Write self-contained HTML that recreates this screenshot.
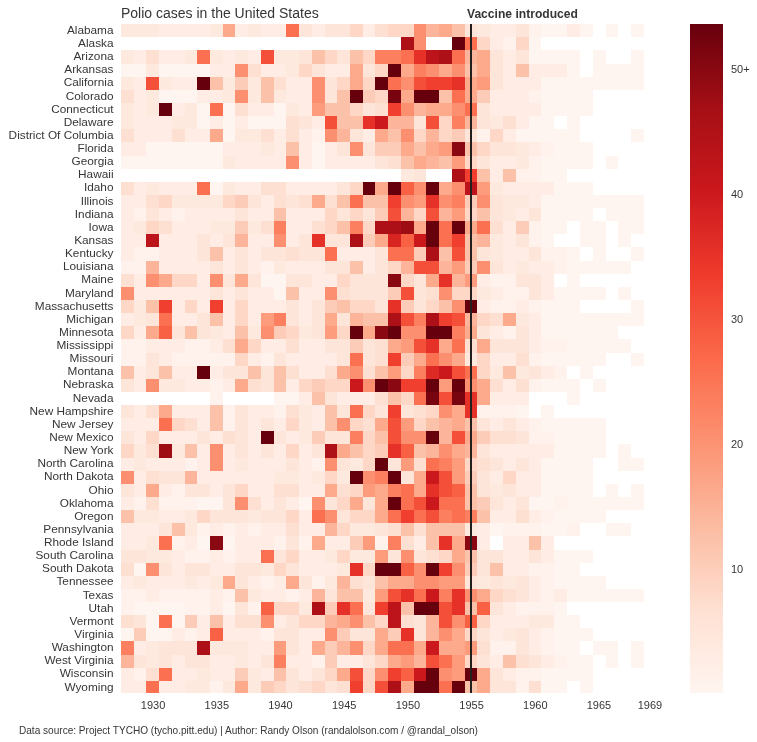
<!DOCTYPE html>
<html><head><meta charset="utf-8"><title>Polio cases in the United States</title>
<style>
html,body{margin:0;padding:0;background:#fff;}
body{width:757px;height:742px;position:relative;overflow:hidden;font-family:"Liberation Sans",sans-serif;color:#363636;}
svg{position:absolute;left:0;top:0;}
.txt,.txt0{position:absolute;left:0;top:0;width:757px;height:742px;will-change:transform;}
.title{position:absolute;left:121px;top:4px;font-size:14px;line-height:18px;white-space:nowrap;}
.vac{position:absolute;left:467px;top:6px;font-size:12.1px;line-height:16px;font-weight:bold;white-space:nowrap;}
.sl{position:absolute;right:643.5px;width:200px;text-align:right;font-size:11.8px;line-height:16px;white-space:nowrap;}
.xt{position:absolute;top:697px;width:40px;text-align:center;font-size:11px;line-height:16px;}
.cbt{position:absolute;left:731px;font-size:11px;line-height:16px;}
.foot{position:absolute;left:19px;top:724.3px;font-size:10.07px;line-height:14px;white-space:nowrap;}
</style></head><body>
<svg width="757" height="742" viewBox="0 0 757 742" shape-rendering="crispEdges">
<defs><linearGradient id="g" x1="0" y1="0" x2="0" y2="1"><stop offset="0.000" stop-color="#67000d"/><stop offset="0.125" stop-color="#a50f15"/><stop offset="0.250" stop-color="#cb181d"/><stop offset="0.375" stop-color="#ef3b2c"/><stop offset="0.500" stop-color="#fb6a4a"/><stop offset="0.625" stop-color="#fc9272"/><stop offset="0.750" stop-color="#fcbba1"/><stop offset="0.875" stop-color="#fee0d2"/><stop offset="1.000" stop-color="#fff5f0"/></linearGradient></defs>
<rect x="121" y="24" width="38" height="13" fill="#fee9df"/>
<rect x="159" y="24" width="51" height="13" fill="#ffede5"/>
<rect x="210" y="24" width="13" height="13" fill="#fee9df"/>
<rect x="223" y="24" width="12" height="13" fill="#fca98c"/>
<rect x="235" y="24" width="13" height="13" fill="#ffede5"/>
<rect x="248" y="24" width="13" height="13" fill="#fee9df"/>
<rect x="261" y="24" width="25" height="13" fill="#ffede5"/>
<rect x="286" y="24" width="13" height="13" fill="#fb7050"/>
<rect x="299" y="24" width="13" height="13" fill="#fee5d9"/>
<rect x="312" y="24" width="13" height="13" fill="#ffede5"/>
<rect x="325" y="24" width="25" height="13" fill="#fee5d9"/>
<rect x="350" y="24" width="13" height="13" fill="#fed7c6"/>
<rect x="363" y="24" width="12" height="13" fill="#ffede5"/>
<rect x="375" y="24" width="13" height="13" fill="#fee0d2"/>
<rect x="388" y="24" width="26" height="13" fill="#fed7c6"/>
<rect x="414" y="24" width="12" height="13" fill="#fc8f6f"/>
<rect x="426" y="24" width="13" height="13" fill="#fcb59a"/>
<rect x="439" y="24" width="13" height="13" fill="#fca98c"/>
<rect x="452" y="24" width="13" height="13" fill="#fcc1a9"/>
<rect x="465" y="24" width="12" height="13" fill="#fee5d9"/>
<rect x="477" y="24" width="13" height="13" fill="#fee9df"/>
<rect x="490" y="24" width="26" height="13" fill="#ffede5"/>
<rect x="516" y="24" width="13" height="13" fill="#fee5d9"/>
<rect x="529" y="24" width="12" height="13" fill="#fff1eb"/>
<rect x="541" y="24" width="26" height="13" fill="#fff5f0"/>
<rect x="567" y="24" width="13" height="13" fill="#ffede5"/>
<rect x="580" y="24" width="13" height="13" fill="#fff5f0"/>
<rect x="606" y="24" width="12" height="13" fill="#fff5f0"/>
<rect x="631" y="24" width="13" height="13" fill="#fff5f0"/>
<rect x="401" y="37" width="13" height="13" fill="#ad1117"/>
<rect x="414" y="37" width="12" height="13" fill="#fc8f6f"/>
<rect x="452" y="37" width="13" height="13" fill="#67000d"/>
<rect x="465" y="37" width="12" height="13" fill="#fb7050"/>
<rect x="477" y="37" width="13" height="13" fill="#fed7c6"/>
<rect x="490" y="37" width="13" height="13" fill="#ffede5"/>
<rect x="503" y="37" width="13" height="13" fill="#fff1eb"/>
<rect x="516" y="37" width="13" height="13" fill="#fed7c6"/>
<rect x="529" y="37" width="12" height="13" fill="#fff5f0"/>
<rect x="121" y="50" width="13" height="14" fill="#fee9df"/>
<rect x="134" y="50" width="12" height="14" fill="#ffede5"/>
<rect x="146" y="50" width="13" height="14" fill="#fee0d2"/>
<rect x="159" y="50" width="26" height="14" fill="#ffede5"/>
<rect x="185" y="50" width="12" height="14" fill="#fee9df"/>
<rect x="197" y="50" width="13" height="14" fill="#fb7050"/>
<rect x="210" y="50" width="13" height="14" fill="#fee9df"/>
<rect x="223" y="50" width="12" height="14" fill="#ffede5"/>
<rect x="235" y="50" width="13" height="14" fill="#fee9df"/>
<rect x="248" y="50" width="13" height="14" fill="#ffede5"/>
<rect x="261" y="50" width="13" height="14" fill="#f45039"/>
<rect x="274" y="50" width="25" height="14" fill="#fee9df"/>
<rect x="299" y="50" width="13" height="14" fill="#fee5d9"/>
<rect x="312" y="50" width="13" height="14" fill="#fcc1a9"/>
<rect x="325" y="50" width="12" height="14" fill="#fed7c6"/>
<rect x="337" y="50" width="13" height="14" fill="#fee5d9"/>
<rect x="350" y="50" width="13" height="14" fill="#fcc1a9"/>
<rect x="363" y="50" width="12" height="14" fill="#fed7c6"/>
<rect x="375" y="50" width="26" height="14" fill="#fc8060"/>
<rect x="401" y="50" width="13" height="14" fill="#fb7050"/>
<rect x="414" y="50" width="12" height="14" fill="#e53128"/>
<rect x="426" y="50" width="13" height="14" fill="#bc141a"/>
<rect x="439" y="50" width="13" height="14" fill="#ad1117"/>
<rect x="452" y="50" width="13" height="14" fill="#fb7050"/>
<rect x="465" y="50" width="12" height="14" fill="#fcb59a"/>
<rect x="477" y="50" width="13" height="14" fill="#fca98c"/>
<rect x="490" y="50" width="13" height="14" fill="#fee5d9"/>
<rect x="503" y="50" width="13" height="14" fill="#ffede5"/>
<rect x="516" y="50" width="13" height="14" fill="#fee5d9"/>
<rect x="529" y="50" width="51" height="14" fill="#fff5f0"/>
<rect x="593" y="50" width="13" height="14" fill="#fff5f0"/>
<rect x="631" y="50" width="13" height="14" fill="#fff5f0"/>
<rect x="121" y="64" width="25" height="13" fill="#fff5f0"/>
<rect x="146" y="64" width="13" height="13" fill="#fee9df"/>
<rect x="159" y="64" width="51" height="13" fill="#fff5f0"/>
<rect x="210" y="64" width="25" height="13" fill="#ffede5"/>
<rect x="235" y="64" width="13" height="13" fill="#fc8f6f"/>
<rect x="248" y="64" width="13" height="13" fill="#fee0d2"/>
<rect x="261" y="64" width="25" height="13" fill="#ffede5"/>
<rect x="286" y="64" width="13" height="13" fill="#fee9df"/>
<rect x="299" y="64" width="13" height="13" fill="#fed7c6"/>
<rect x="312" y="64" width="13" height="13" fill="#fee5d9"/>
<rect x="325" y="64" width="25" height="13" fill="#ffede5"/>
<rect x="350" y="64" width="13" height="13" fill="#fca98c"/>
<rect x="363" y="64" width="12" height="13" fill="#fee5d9"/>
<rect x="375" y="64" width="13" height="13" fill="#fed7c6"/>
<rect x="388" y="64" width="13" height="13" fill="#67000d"/>
<rect x="401" y="64" width="13" height="13" fill="#fca98c"/>
<rect x="414" y="64" width="12" height="13" fill="#fc8060"/>
<rect x="426" y="64" width="13" height="13" fill="#fc8f6f"/>
<rect x="439" y="64" width="13" height="13" fill="#fca98c"/>
<rect x="452" y="64" width="13" height="13" fill="#fc8f6f"/>
<rect x="465" y="64" width="12" height="13" fill="#fcc1a9"/>
<rect x="477" y="64" width="13" height="13" fill="#fca98c"/>
<rect x="490" y="64" width="13" height="13" fill="#fee5d9"/>
<rect x="503" y="64" width="13" height="13" fill="#ffede5"/>
<rect x="516" y="64" width="13" height="13" fill="#fcc1a9"/>
<rect x="529" y="64" width="38" height="13" fill="#ffede5"/>
<rect x="567" y="64" width="13" height="13" fill="#fff5f0"/>
<rect x="593" y="64" width="51" height="13" fill="#fff5f0"/>
<rect x="121" y="77" width="13" height="13" fill="#fee9df"/>
<rect x="134" y="77" width="12" height="13" fill="#ffede5"/>
<rect x="146" y="77" width="13" height="13" fill="#f45039"/>
<rect x="159" y="77" width="13" height="13" fill="#fee9df"/>
<rect x="172" y="77" width="25" height="13" fill="#ffede5"/>
<rect x="197" y="77" width="13" height="13" fill="#67000d"/>
<rect x="210" y="77" width="13" height="13" fill="#fcc1a9"/>
<rect x="223" y="77" width="12" height="13" fill="#fee9df"/>
<rect x="235" y="77" width="13" height="13" fill="#fdccb8"/>
<rect x="248" y="77" width="13" height="13" fill="#fee9df"/>
<rect x="261" y="77" width="13" height="13" fill="#fcc1a9"/>
<rect x="274" y="77" width="12" height="13" fill="#fee0d2"/>
<rect x="286" y="77" width="26" height="13" fill="#ffede5"/>
<rect x="312" y="77" width="13" height="13" fill="#fc8f6f"/>
<rect x="325" y="77" width="12" height="13" fill="#fee5d9"/>
<rect x="337" y="77" width="13" height="13" fill="#fed7c6"/>
<rect x="350" y="77" width="13" height="13" fill="#fca98c"/>
<rect x="363" y="77" width="12" height="13" fill="#fed7c6"/>
<rect x="375" y="77" width="13" height="13" fill="#67000d"/>
<rect x="388" y="77" width="13" height="13" fill="#fb7050"/>
<rect x="401" y="77" width="13" height="13" fill="#fc8f6f"/>
<rect x="414" y="77" width="12" height="13" fill="#f45039"/>
<rect x="426" y="77" width="26" height="13" fill="#f03f2e"/>
<rect x="452" y="77" width="13" height="13" fill="#e53128"/>
<rect x="465" y="77" width="12" height="13" fill="#fca98c"/>
<rect x="477" y="77" width="13" height="13" fill="#fc9c7d"/>
<rect x="490" y="77" width="13" height="13" fill="#fee5d9"/>
<rect x="503" y="77" width="38" height="13" fill="#ffede5"/>
<rect x="541" y="77" width="103" height="13" fill="#fff5f0"/>
<rect x="121" y="90" width="13" height="13" fill="#fee0d2"/>
<rect x="134" y="90" width="12" height="13" fill="#ffede5"/>
<rect x="146" y="90" width="13" height="13" fill="#fee9df"/>
<rect x="159" y="90" width="38" height="13" fill="#fff5f0"/>
<rect x="197" y="90" width="26" height="13" fill="#ffede5"/>
<rect x="223" y="90" width="12" height="13" fill="#fee9df"/>
<rect x="235" y="90" width="13" height="13" fill="#fc8f6f"/>
<rect x="248" y="90" width="13" height="13" fill="#fee9df"/>
<rect x="261" y="90" width="13" height="13" fill="#fcc1a9"/>
<rect x="274" y="90" width="12" height="13" fill="#fee9df"/>
<rect x="286" y="90" width="26" height="13" fill="#ffede5"/>
<rect x="312" y="90" width="13" height="13" fill="#fc8f6f"/>
<rect x="325" y="90" width="12" height="13" fill="#fee5d9"/>
<rect x="337" y="90" width="13" height="13" fill="#fcc1a9"/>
<rect x="350" y="90" width="13" height="13" fill="#67000d"/>
<rect x="363" y="90" width="12" height="13" fill="#fdccb8"/>
<rect x="375" y="90" width="13" height="13" fill="#fed7c6"/>
<rect x="388" y="90" width="13" height="13" fill="#78040f"/>
<rect x="401" y="90" width="13" height="13" fill="#fca98c"/>
<rect x="414" y="90" width="25" height="13" fill="#67000d"/>
<rect x="439" y="90" width="13" height="13" fill="#fcc1a9"/>
<rect x="452" y="90" width="13" height="13" fill="#fb7050"/>
<rect x="465" y="90" width="12" height="13" fill="#fca98c"/>
<rect x="477" y="90" width="13" height="13" fill="#fdccb8"/>
<rect x="490" y="90" width="39" height="13" fill="#ffede5"/>
<rect x="529" y="90" width="12" height="13" fill="#fff1eb"/>
<rect x="541" y="90" width="52" height="13" fill="#fff5f0"/>
<rect x="121" y="103" width="13" height="13" fill="#fee9df"/>
<rect x="134" y="103" width="12" height="13" fill="#ffede5"/>
<rect x="146" y="103" width="13" height="13" fill="#fee9df"/>
<rect x="159" y="103" width="13" height="13" fill="#67000d"/>
<rect x="172" y="103" width="13" height="13" fill="#ffede5"/>
<rect x="185" y="103" width="12" height="13" fill="#fee9df"/>
<rect x="197" y="103" width="13" height="13" fill="#fff5f0"/>
<rect x="210" y="103" width="13" height="13" fill="#fb7050"/>
<rect x="223" y="103" width="12" height="13" fill="#fff5f0"/>
<rect x="235" y="103" width="13" height="13" fill="#fee0d2"/>
<rect x="248" y="103" width="26" height="13" fill="#ffede5"/>
<rect x="274" y="103" width="12" height="13" fill="#fff5f0"/>
<rect x="286" y="103" width="13" height="13" fill="#fee9df"/>
<rect x="299" y="103" width="13" height="13" fill="#ffede5"/>
<rect x="312" y="103" width="13" height="13" fill="#fc9c7d"/>
<rect x="325" y="103" width="25" height="13" fill="#fcc1a9"/>
<rect x="350" y="103" width="13" height="13" fill="#fed7c6"/>
<rect x="363" y="103" width="12" height="13" fill="#fee5d9"/>
<rect x="375" y="103" width="13" height="13" fill="#fee0d2"/>
<rect x="388" y="103" width="13" height="13" fill="#f03f2e"/>
<rect x="401" y="103" width="13" height="13" fill="#fc8f6f"/>
<rect x="414" y="103" width="12" height="13" fill="#fcb59a"/>
<rect x="426" y="103" width="26" height="13" fill="#fca98c"/>
<rect x="452" y="103" width="13" height="13" fill="#fc8f6f"/>
<rect x="465" y="103" width="12" height="13" fill="#fb7050"/>
<rect x="477" y="103" width="13" height="13" fill="#fee5d9"/>
<rect x="490" y="103" width="51" height="13" fill="#ffede5"/>
<rect x="541" y="103" width="52" height="13" fill="#fff5f0"/>
<rect x="121" y="116" width="13" height="13" fill="#fee9df"/>
<rect x="134" y="116" width="38" height="13" fill="#ffede5"/>
<rect x="172" y="116" width="25" height="13" fill="#fee9df"/>
<rect x="197" y="116" width="13" height="13" fill="#fff5f0"/>
<rect x="210" y="116" width="13" height="13" fill="#ffede5"/>
<rect x="223" y="116" width="12" height="13" fill="#fff5f0"/>
<rect x="235" y="116" width="13" height="13" fill="#ffede5"/>
<rect x="248" y="116" width="38" height="13" fill="#fff5f0"/>
<rect x="286" y="116" width="13" height="13" fill="#fee0d2"/>
<rect x="299" y="116" width="13" height="13" fill="#fee5d9"/>
<rect x="312" y="116" width="13" height="13" fill="#ffede5"/>
<rect x="325" y="116" width="12" height="13" fill="#f45039"/>
<rect x="337" y="116" width="26" height="13" fill="#fcc1a9"/>
<rect x="363" y="116" width="12" height="13" fill="#e53128"/>
<rect x="375" y="116" width="13" height="13" fill="#cb181d"/>
<rect x="388" y="116" width="26" height="13" fill="#fcb59a"/>
<rect x="414" y="116" width="12" height="13" fill="#fee5d9"/>
<rect x="426" y="116" width="13" height="13" fill="#f45039"/>
<rect x="439" y="116" width="13" height="13" fill="#fed7c6"/>
<rect x="452" y="116" width="13" height="13" fill="#fc8060"/>
<rect x="465" y="116" width="12" height="13" fill="#fcb59a"/>
<rect x="477" y="116" width="13" height="13" fill="#fee5d9"/>
<rect x="490" y="116" width="13" height="13" fill="#fee9df"/>
<rect x="503" y="116" width="13" height="13" fill="#fee0d2"/>
<rect x="516" y="116" width="13" height="13" fill="#ffede5"/>
<rect x="529" y="116" width="25" height="13" fill="#fff5f0"/>
<rect x="567" y="116" width="13" height="13" fill="#fff5f0"/>
<rect x="121" y="129" width="13" height="13" fill="#fee0d2"/>
<rect x="134" y="129" width="38" height="13" fill="#ffede5"/>
<rect x="172" y="129" width="13" height="13" fill="#fee0d2"/>
<rect x="185" y="129" width="25" height="13" fill="#ffede5"/>
<rect x="210" y="129" width="13" height="13" fill="#fca98c"/>
<rect x="223" y="129" width="12" height="13" fill="#fff5f0"/>
<rect x="235" y="129" width="26" height="13" fill="#fee9df"/>
<rect x="261" y="129" width="13" height="13" fill="#fee0d2"/>
<rect x="274" y="129" width="12" height="13" fill="#ffede5"/>
<rect x="286" y="129" width="13" height="13" fill="#fee0d2"/>
<rect x="299" y="129" width="13" height="13" fill="#ffede5"/>
<rect x="312" y="129" width="13" height="13" fill="#fff1eb"/>
<rect x="325" y="129" width="12" height="13" fill="#fc8f6f"/>
<rect x="337" y="129" width="13" height="13" fill="#fcb59a"/>
<rect x="350" y="129" width="13" height="13" fill="#fee5d9"/>
<rect x="363" y="129" width="12" height="13" fill="#ffede5"/>
<rect x="375" y="129" width="13" height="13" fill="#fca98c"/>
<rect x="388" y="129" width="13" height="13" fill="#fcc1a9"/>
<rect x="401" y="129" width="13" height="13" fill="#fc8f6f"/>
<rect x="414" y="129" width="12" height="13" fill="#fed7c6"/>
<rect x="426" y="129" width="13" height="13" fill="#fcb59a"/>
<rect x="439" y="129" width="13" height="13" fill="#fed7c6"/>
<rect x="452" y="129" width="13" height="13" fill="#fdccb8"/>
<rect x="465" y="129" width="12" height="13" fill="#fee5d9"/>
<rect x="477" y="129" width="13" height="13" fill="#fff1eb"/>
<rect x="490" y="129" width="13" height="13" fill="#fed7c6"/>
<rect x="503" y="129" width="13" height="13" fill="#ffede5"/>
<rect x="516" y="129" width="64" height="13" fill="#fff5f0"/>
<rect x="631" y="129" width="13" height="13" fill="#fff5f0"/>
<rect x="121" y="142" width="25" height="14" fill="#ffede5"/>
<rect x="146" y="142" width="77" height="14" fill="#fff5f0"/>
<rect x="223" y="142" width="38" height="14" fill="#ffede5"/>
<rect x="261" y="142" width="13" height="14" fill="#fee9df"/>
<rect x="274" y="142" width="12" height="14" fill="#ffede5"/>
<rect x="286" y="142" width="13" height="14" fill="#fcc1a9"/>
<rect x="299" y="142" width="13" height="14" fill="#ffede5"/>
<rect x="312" y="142" width="13" height="14" fill="#fff5f0"/>
<rect x="325" y="142" width="12" height="14" fill="#ffede5"/>
<rect x="337" y="142" width="13" height="14" fill="#fee5d9"/>
<rect x="350" y="142" width="13" height="14" fill="#fc8f6f"/>
<rect x="363" y="142" width="12" height="14" fill="#fee5d9"/>
<rect x="375" y="142" width="26" height="14" fill="#fdccb8"/>
<rect x="401" y="142" width="13" height="14" fill="#fca98c"/>
<rect x="414" y="142" width="12" height="14" fill="#fcc1a9"/>
<rect x="426" y="142" width="13" height="14" fill="#fca98c"/>
<rect x="439" y="142" width="13" height="14" fill="#fc9c7d"/>
<rect x="452" y="142" width="13" height="14" fill="#8a0811"/>
<rect x="465" y="142" width="12" height="14" fill="#fcc1a9"/>
<rect x="477" y="142" width="13" height="14" fill="#fed7c6"/>
<rect x="490" y="142" width="26" height="14" fill="#fee5d9"/>
<rect x="516" y="142" width="13" height="14" fill="#fee9df"/>
<rect x="529" y="142" width="12" height="14" fill="#ffede5"/>
<rect x="541" y="142" width="13" height="14" fill="#fff1eb"/>
<rect x="554" y="142" width="39" height="14" fill="#fff5f0"/>
<rect x="121" y="156" width="102" height="13" fill="#fff5f0"/>
<rect x="223" y="156" width="12" height="13" fill="#fee9df"/>
<rect x="235" y="156" width="51" height="13" fill="#ffede5"/>
<rect x="286" y="156" width="13" height="13" fill="#fc8f6f"/>
<rect x="299" y="156" width="13" height="13" fill="#ffede5"/>
<rect x="312" y="156" width="13" height="13" fill="#fff5f0"/>
<rect x="325" y="156" width="50" height="13" fill="#ffede5"/>
<rect x="375" y="156" width="13" height="13" fill="#fee5d9"/>
<rect x="388" y="156" width="13" height="13" fill="#fee0d2"/>
<rect x="401" y="156" width="13" height="13" fill="#fcc1a9"/>
<rect x="414" y="156" width="12" height="13" fill="#fca98c"/>
<rect x="426" y="156" width="13" height="13" fill="#fcb59a"/>
<rect x="439" y="156" width="13" height="13" fill="#fcc1a9"/>
<rect x="452" y="156" width="13" height="13" fill="#fc9c7d"/>
<rect x="465" y="156" width="12" height="13" fill="#fed7c6"/>
<rect x="477" y="156" width="13" height="13" fill="#fee5d9"/>
<rect x="490" y="156" width="26" height="13" fill="#ffede5"/>
<rect x="516" y="156" width="13" height="13" fill="#fee9df"/>
<rect x="529" y="156" width="12" height="13" fill="#fff1eb"/>
<rect x="541" y="156" width="52" height="13" fill="#fff5f0"/>
<rect x="606" y="156" width="12" height="13" fill="#fff5f0"/>
<rect x="401" y="169" width="13" height="13" fill="#fee9df"/>
<rect x="414" y="169" width="12" height="13" fill="#fee5d9"/>
<rect x="452" y="169" width="13" height="13" fill="#ad1117"/>
<rect x="465" y="169" width="12" height="13" fill="#f03f2e"/>
<rect x="477" y="169" width="13" height="13" fill="#fcc1a9"/>
<rect x="490" y="169" width="13" height="13" fill="#ffede5"/>
<rect x="503" y="169" width="13" height="13" fill="#fcc1a9"/>
<rect x="516" y="169" width="25" height="13" fill="#fff1eb"/>
<rect x="541" y="169" width="26" height="13" fill="#fff5f0"/>
<rect x="121" y="182" width="13" height="13" fill="#fee0d2"/>
<rect x="134" y="182" width="12" height="13" fill="#ffede5"/>
<rect x="146" y="182" width="13" height="13" fill="#fee9df"/>
<rect x="159" y="182" width="38" height="13" fill="#ffede5"/>
<rect x="197" y="182" width="13" height="13" fill="#fb7050"/>
<rect x="210" y="182" width="13" height="13" fill="#fff5f0"/>
<rect x="223" y="182" width="12" height="13" fill="#fee9df"/>
<rect x="235" y="182" width="26" height="13" fill="#ffede5"/>
<rect x="261" y="182" width="25" height="13" fill="#fee0d2"/>
<rect x="286" y="182" width="51" height="13" fill="#ffede5"/>
<rect x="337" y="182" width="13" height="13" fill="#fee5d9"/>
<rect x="350" y="182" width="13" height="13" fill="#fed7c6"/>
<rect x="363" y="182" width="12" height="13" fill="#67000d"/>
<rect x="375" y="182" width="13" height="13" fill="#fca98c"/>
<rect x="388" y="182" width="13" height="13" fill="#67000d"/>
<rect x="401" y="182" width="13" height="13" fill="#f96144"/>
<rect x="414" y="182" width="12" height="13" fill="#fc8f6f"/>
<rect x="426" y="182" width="13" height="13" fill="#67000d"/>
<rect x="439" y="182" width="13" height="13" fill="#fca98c"/>
<rect x="452" y="182" width="13" height="13" fill="#fc8f6f"/>
<rect x="465" y="182" width="12" height="13" fill="#bc141a"/>
<rect x="477" y="182" width="13" height="13" fill="#fc9c7d"/>
<rect x="490" y="182" width="13" height="13" fill="#fee9df"/>
<rect x="503" y="182" width="51" height="13" fill="#ffede5"/>
<rect x="554" y="182" width="39" height="13" fill="#fff5f0"/>
<rect x="121" y="195" width="25" height="13" fill="#ffede5"/>
<rect x="146" y="195" width="13" height="13" fill="#fee0d2"/>
<rect x="159" y="195" width="13" height="13" fill="#fed7c6"/>
<rect x="172" y="195" width="51" height="13" fill="#fee9df"/>
<rect x="223" y="195" width="12" height="13" fill="#fed7c6"/>
<rect x="235" y="195" width="13" height="13" fill="#fdccb8"/>
<rect x="248" y="195" width="13" height="13" fill="#fee5d9"/>
<rect x="261" y="195" width="13" height="13" fill="#ffede5"/>
<rect x="274" y="195" width="12" height="13" fill="#fee0d2"/>
<rect x="286" y="195" width="13" height="13" fill="#fee5d9"/>
<rect x="299" y="195" width="13" height="13" fill="#fee0d2"/>
<rect x="312" y="195" width="13" height="13" fill="#fca98c"/>
<rect x="325" y="195" width="12" height="13" fill="#fee0d2"/>
<rect x="337" y="195" width="13" height="13" fill="#fcc1a9"/>
<rect x="350" y="195" width="13" height="13" fill="#fb7050"/>
<rect x="363" y="195" width="25" height="13" fill="#fcc1a9"/>
<rect x="388" y="195" width="13" height="13" fill="#f03f2e"/>
<rect x="401" y="195" width="13" height="13" fill="#fc8f6f"/>
<rect x="414" y="195" width="12" height="13" fill="#fc9c7d"/>
<rect x="426" y="195" width="13" height="13" fill="#e53128"/>
<rect x="439" y="195" width="13" height="13" fill="#fc8f6f"/>
<rect x="452" y="195" width="13" height="13" fill="#fc8060"/>
<rect x="465" y="195" width="12" height="13" fill="#fdccb8"/>
<rect x="477" y="195" width="13" height="13" fill="#fc8f6f"/>
<rect x="490" y="195" width="13" height="13" fill="#fee5d9"/>
<rect x="503" y="195" width="26" height="13" fill="#fee9df"/>
<rect x="529" y="195" width="12" height="13" fill="#ffede5"/>
<rect x="541" y="195" width="103" height="13" fill="#fff5f0"/>
<rect x="121" y="208" width="13" height="13" fill="#ffede5"/>
<rect x="134" y="208" width="12" height="13" fill="#fff1eb"/>
<rect x="146" y="208" width="13" height="13" fill="#fee5d9"/>
<rect x="159" y="208" width="13" height="13" fill="#ffede5"/>
<rect x="172" y="208" width="13" height="13" fill="#fff1eb"/>
<rect x="185" y="208" width="50" height="13" fill="#ffede5"/>
<rect x="235" y="208" width="13" height="13" fill="#fee5d9"/>
<rect x="248" y="208" width="26" height="13" fill="#ffede5"/>
<rect x="274" y="208" width="12" height="13" fill="#fcc1a9"/>
<rect x="286" y="208" width="39" height="13" fill="#ffede5"/>
<rect x="325" y="208" width="12" height="13" fill="#fed7c6"/>
<rect x="337" y="208" width="13" height="13" fill="#fee5d9"/>
<rect x="350" y="208" width="13" height="13" fill="#fed7c6"/>
<rect x="363" y="208" width="12" height="13" fill="#fee5d9"/>
<rect x="375" y="208" width="13" height="13" fill="#fdccb8"/>
<rect x="388" y="208" width="13" height="13" fill="#f45039"/>
<rect x="401" y="208" width="13" height="13" fill="#fcb59a"/>
<rect x="414" y="208" width="12" height="13" fill="#fed7c6"/>
<rect x="426" y="208" width="13" height="13" fill="#f45039"/>
<rect x="439" y="208" width="13" height="13" fill="#fcb59a"/>
<rect x="452" y="208" width="13" height="13" fill="#fc9c7d"/>
<rect x="465" y="208" width="12" height="13" fill="#fed7c6"/>
<rect x="477" y="208" width="13" height="13" fill="#fcc1a9"/>
<rect x="490" y="208" width="13" height="13" fill="#fee5d9"/>
<rect x="503" y="208" width="13" height="13" fill="#fee9df"/>
<rect x="516" y="208" width="13" height="13" fill="#ffede5"/>
<rect x="529" y="208" width="12" height="13" fill="#fee5d9"/>
<rect x="541" y="208" width="52" height="13" fill="#fff5f0"/>
<rect x="606" y="208" width="38" height="13" fill="#fff5f0"/>
<rect x="121" y="221" width="13" height="13" fill="#ffede5"/>
<rect x="134" y="221" width="12" height="13" fill="#fee9df"/>
<rect x="146" y="221" width="13" height="13" fill="#fed7c6"/>
<rect x="159" y="221" width="13" height="13" fill="#fee0d2"/>
<rect x="172" y="221" width="38" height="13" fill="#ffede5"/>
<rect x="210" y="221" width="25" height="13" fill="#fee9df"/>
<rect x="235" y="221" width="13" height="13" fill="#fdccb8"/>
<rect x="248" y="221" width="13" height="13" fill="#fee9df"/>
<rect x="261" y="221" width="13" height="13" fill="#fee0d2"/>
<rect x="274" y="221" width="12" height="13" fill="#fc8060"/>
<rect x="286" y="221" width="26" height="13" fill="#ffede5"/>
<rect x="312" y="221" width="13" height="13" fill="#fee0d2"/>
<rect x="325" y="221" width="12" height="13" fill="#fed7c6"/>
<rect x="337" y="221" width="13" height="13" fill="#fcc1a9"/>
<rect x="350" y="221" width="13" height="13" fill="#fc8060"/>
<rect x="363" y="221" width="12" height="13" fill="#fed7c6"/>
<rect x="375" y="221" width="26" height="13" fill="#ad1117"/>
<rect x="401" y="221" width="13" height="13" fill="#9e0d14"/>
<rect x="414" y="221" width="12" height="13" fill="#fca98c"/>
<rect x="426" y="221" width="13" height="13" fill="#67000d"/>
<rect x="439" y="221" width="13" height="13" fill="#fb7050"/>
<rect x="452" y="221" width="13" height="13" fill="#67000d"/>
<rect x="465" y="221" width="12" height="13" fill="#fca98c"/>
<rect x="477" y="221" width="13" height="13" fill="#fb7050"/>
<rect x="490" y="221" width="13" height="13" fill="#fee0d2"/>
<rect x="503" y="221" width="13" height="13" fill="#ffede5"/>
<rect x="516" y="221" width="13" height="13" fill="#fdccb8"/>
<rect x="529" y="221" width="12" height="13" fill="#fff1eb"/>
<rect x="541" y="221" width="26" height="13" fill="#fff5f0"/>
<rect x="580" y="221" width="26" height="13" fill="#fff5f0"/>
<rect x="618" y="221" width="26" height="13" fill="#fff5f0"/>
<rect x="121" y="234" width="25" height="13" fill="#ffede5"/>
<rect x="146" y="234" width="13" height="13" fill="#bc141a"/>
<rect x="159" y="234" width="38" height="13" fill="#ffede5"/>
<rect x="197" y="234" width="13" height="13" fill="#fee5d9"/>
<rect x="210" y="234" width="13" height="13" fill="#ffede5"/>
<rect x="223" y="234" width="12" height="13" fill="#fee5d9"/>
<rect x="235" y="234" width="13" height="13" fill="#fcb59a"/>
<rect x="248" y="234" width="26" height="13" fill="#ffede5"/>
<rect x="274" y="234" width="12" height="13" fill="#fc8f6f"/>
<rect x="286" y="234" width="13" height="13" fill="#ffede5"/>
<rect x="299" y="234" width="13" height="13" fill="#fee5d9"/>
<rect x="312" y="234" width="13" height="13" fill="#e53128"/>
<rect x="325" y="234" width="25" height="13" fill="#fee5d9"/>
<rect x="350" y="234" width="13" height="13" fill="#ad1117"/>
<rect x="363" y="234" width="12" height="13" fill="#fdccb8"/>
<rect x="375" y="234" width="13" height="13" fill="#fca98c"/>
<rect x="388" y="234" width="13" height="13" fill="#d82522"/>
<rect x="401" y="234" width="13" height="13" fill="#f96144"/>
<rect x="414" y="234" width="12" height="13" fill="#cb181d"/>
<rect x="426" y="234" width="13" height="13" fill="#67000d"/>
<rect x="439" y="234" width="13" height="13" fill="#fb7050"/>
<rect x="452" y="234" width="13" height="13" fill="#f03f2e"/>
<rect x="465" y="234" width="12" height="13" fill="#fcc1a9"/>
<rect x="477" y="234" width="13" height="13" fill="#fcb59a"/>
<rect x="490" y="234" width="13" height="13" fill="#fee9df"/>
<rect x="503" y="234" width="13" height="13" fill="#ffede5"/>
<rect x="516" y="234" width="13" height="13" fill="#fee5d9"/>
<rect x="529" y="234" width="12" height="13" fill="#fff1eb"/>
<rect x="541" y="234" width="13" height="13" fill="#fff5f0"/>
<rect x="580" y="234" width="26" height="13" fill="#fff5f0"/>
<rect x="618" y="234" width="13" height="13" fill="#fff5f0"/>
<rect x="121" y="247" width="13" height="14" fill="#ffede5"/>
<rect x="134" y="247" width="25" height="14" fill="#fff1eb"/>
<rect x="159" y="247" width="38" height="14" fill="#ffede5"/>
<rect x="197" y="247" width="13" height="14" fill="#fee5d9"/>
<rect x="210" y="247" width="13" height="14" fill="#fcc1a9"/>
<rect x="223" y="247" width="12" height="14" fill="#ffede5"/>
<rect x="235" y="247" width="13" height="14" fill="#fee5d9"/>
<rect x="248" y="247" width="13" height="14" fill="#ffede5"/>
<rect x="261" y="247" width="25" height="14" fill="#fee5d9"/>
<rect x="286" y="247" width="13" height="14" fill="#fee0d2"/>
<rect x="299" y="247" width="26" height="14" fill="#fee5d9"/>
<rect x="325" y="247" width="12" height="14" fill="#fb7050"/>
<rect x="337" y="247" width="38" height="14" fill="#ffede5"/>
<rect x="375" y="247" width="13" height="14" fill="#fee5d9"/>
<rect x="388" y="247" width="26" height="14" fill="#fb7050"/>
<rect x="414" y="247" width="12" height="14" fill="#fdccb8"/>
<rect x="426" y="247" width="13" height="14" fill="#ad1117"/>
<rect x="439" y="247" width="13" height="14" fill="#fcc1a9"/>
<rect x="452" y="247" width="13" height="14" fill="#f45039"/>
<rect x="465" y="247" width="12" height="14" fill="#fcc1a9"/>
<rect x="477" y="247" width="13" height="14" fill="#fee5d9"/>
<rect x="490" y="247" width="13" height="14" fill="#fee9df"/>
<rect x="503" y="247" width="26" height="14" fill="#ffede5"/>
<rect x="529" y="247" width="12" height="14" fill="#fee5d9"/>
<rect x="541" y="247" width="26" height="14" fill="#fff1eb"/>
<rect x="567" y="247" width="13" height="14" fill="#fff5f0"/>
<rect x="593" y="247" width="13" height="14" fill="#fff5f0"/>
<rect x="631" y="247" width="13" height="14" fill="#fff5f0"/>
<rect x="121" y="261" width="25" height="13" fill="#fff1eb"/>
<rect x="146" y="261" width="13" height="13" fill="#fcb59a"/>
<rect x="159" y="261" width="51" height="13" fill="#ffede5"/>
<rect x="210" y="261" width="13" height="13" fill="#fee5d9"/>
<rect x="223" y="261" width="12" height="13" fill="#ffede5"/>
<rect x="235" y="261" width="13" height="13" fill="#fee5d9"/>
<rect x="248" y="261" width="13" height="13" fill="#ffede5"/>
<rect x="261" y="261" width="13" height="13" fill="#fff1eb"/>
<rect x="274" y="261" width="12" height="13" fill="#fee9df"/>
<rect x="286" y="261" width="39" height="13" fill="#ffede5"/>
<rect x="325" y="261" width="25" height="13" fill="#fee5d9"/>
<rect x="350" y="261" width="13" height="13" fill="#fcc1a9"/>
<rect x="363" y="261" width="12" height="13" fill="#ffede5"/>
<rect x="375" y="261" width="13" height="13" fill="#fee5d9"/>
<rect x="388" y="261" width="13" height="13" fill="#fed7c6"/>
<rect x="401" y="261" width="13" height="13" fill="#fcb59a"/>
<rect x="414" y="261" width="25" height="13" fill="#f45039"/>
<rect x="439" y="261" width="13" height="13" fill="#fcb59a"/>
<rect x="452" y="261" width="13" height="13" fill="#fc9c7d"/>
<rect x="465" y="261" width="12" height="13" fill="#fdccb8"/>
<rect x="477" y="261" width="13" height="13" fill="#fc8f6f"/>
<rect x="490" y="261" width="13" height="13" fill="#fee5d9"/>
<rect x="503" y="261" width="13" height="13" fill="#ffede5"/>
<rect x="516" y="261" width="13" height="13" fill="#fee9df"/>
<rect x="529" y="261" width="25" height="13" fill="#ffede5"/>
<rect x="554" y="261" width="13" height="13" fill="#fff1eb"/>
<rect x="567" y="261" width="64" height="13" fill="#fff5f0"/>
<rect x="121" y="274" width="13" height="13" fill="#fee0d2"/>
<rect x="134" y="274" width="12" height="13" fill="#ffede5"/>
<rect x="146" y="274" width="13" height="13" fill="#fc8f6f"/>
<rect x="159" y="274" width="13" height="13" fill="#fca98c"/>
<rect x="172" y="274" width="25" height="13" fill="#fed7c6"/>
<rect x="197" y="274" width="13" height="13" fill="#ffede5"/>
<rect x="210" y="274" width="13" height="13" fill="#fc8f6f"/>
<rect x="223" y="274" width="12" height="13" fill="#fee5d9"/>
<rect x="235" y="274" width="13" height="13" fill="#fca98c"/>
<rect x="248" y="274" width="13" height="13" fill="#fee5d9"/>
<rect x="261" y="274" width="25" height="13" fill="#fff5f0"/>
<rect x="286" y="274" width="26" height="13" fill="#fee5d9"/>
<rect x="312" y="274" width="25" height="13" fill="#ffede5"/>
<rect x="337" y="274" width="13" height="13" fill="#fed7c6"/>
<rect x="350" y="274" width="38" height="13" fill="#fee5d9"/>
<rect x="388" y="274" width="13" height="13" fill="#8a0811"/>
<rect x="401" y="274" width="13" height="13" fill="#fed7c6"/>
<rect x="414" y="274" width="12" height="13" fill="#fee5d9"/>
<rect x="426" y="274" width="13" height="13" fill="#fca98c"/>
<rect x="439" y="274" width="13" height="13" fill="#e53128"/>
<rect x="452" y="274" width="13" height="13" fill="#fcb59a"/>
<rect x="465" y="274" width="12" height="13" fill="#fc9c7d"/>
<rect x="477" y="274" width="13" height="13" fill="#ffede5"/>
<rect x="490" y="274" width="26" height="13" fill="#fff1eb"/>
<rect x="516" y="274" width="25" height="13" fill="#fee5d9"/>
<rect x="541" y="274" width="13" height="13" fill="#ffede5"/>
<rect x="567" y="274" width="13" height="13" fill="#fff5f0"/>
<rect x="121" y="287" width="13" height="13" fill="#fc8f6f"/>
<rect x="134" y="287" width="76" height="13" fill="#ffede5"/>
<rect x="210" y="287" width="13" height="13" fill="#fee5d9"/>
<rect x="223" y="287" width="12" height="13" fill="#ffede5"/>
<rect x="235" y="287" width="13" height="13" fill="#fee5d9"/>
<rect x="248" y="287" width="26" height="13" fill="#ffede5"/>
<rect x="274" y="287" width="12" height="13" fill="#fff5f0"/>
<rect x="286" y="287" width="13" height="13" fill="#fcc1a9"/>
<rect x="299" y="287" width="26" height="13" fill="#ffede5"/>
<rect x="325" y="287" width="12" height="13" fill="#fc8f6f"/>
<rect x="337" y="287" width="13" height="13" fill="#fee0d2"/>
<rect x="350" y="287" width="38" height="13" fill="#fee5d9"/>
<rect x="388" y="287" width="13" height="13" fill="#fdccb8"/>
<rect x="401" y="287" width="13" height="13" fill="#f45039"/>
<rect x="414" y="287" width="12" height="13" fill="#fee5d9"/>
<rect x="426" y="287" width="13" height="13" fill="#fee0d2"/>
<rect x="439" y="287" width="13" height="13" fill="#fc8f6f"/>
<rect x="452" y="287" width="25" height="13" fill="#fed7c6"/>
<rect x="477" y="287" width="13" height="13" fill="#fee9df"/>
<rect x="490" y="287" width="13" height="13" fill="#ffede5"/>
<rect x="503" y="287" width="26" height="13" fill="#fff1eb"/>
<rect x="529" y="287" width="12" height="13" fill="#fee5d9"/>
<rect x="541" y="287" width="13" height="13" fill="#ffede5"/>
<rect x="554" y="287" width="52" height="13" fill="#fff5f0"/>
<rect x="618" y="287" width="13" height="13" fill="#fff5f0"/>
<rect x="121" y="300" width="13" height="13" fill="#fed7c6"/>
<rect x="134" y="300" width="12" height="13" fill="#fee9df"/>
<rect x="146" y="300" width="13" height="13" fill="#fcc1a9"/>
<rect x="159" y="300" width="13" height="13" fill="#f03f2e"/>
<rect x="172" y="300" width="13" height="13" fill="#ffede5"/>
<rect x="185" y="300" width="12" height="13" fill="#fed7c6"/>
<rect x="197" y="300" width="13" height="13" fill="#ffede5"/>
<rect x="210" y="300" width="13" height="13" fill="#f03f2e"/>
<rect x="223" y="300" width="12" height="13" fill="#ffede5"/>
<rect x="235" y="300" width="13" height="13" fill="#fed7c6"/>
<rect x="248" y="300" width="38" height="13" fill="#ffede5"/>
<rect x="286" y="300" width="13" height="13" fill="#fee5d9"/>
<rect x="299" y="300" width="13" height="13" fill="#ffede5"/>
<rect x="312" y="300" width="13" height="13" fill="#fee5d9"/>
<rect x="325" y="300" width="12" height="13" fill="#fdccb8"/>
<rect x="337" y="300" width="13" height="13" fill="#fcc1a9"/>
<rect x="350" y="300" width="25" height="13" fill="#fed7c6"/>
<rect x="375" y="300" width="13" height="13" fill="#fee5d9"/>
<rect x="388" y="300" width="13" height="13" fill="#e53128"/>
<rect x="401" y="300" width="13" height="13" fill="#fdccb8"/>
<rect x="414" y="300" width="12" height="13" fill="#fee5d9"/>
<rect x="426" y="300" width="13" height="13" fill="#fed7c6"/>
<rect x="439" y="300" width="13" height="13" fill="#fcc1a9"/>
<rect x="452" y="300" width="13" height="13" fill="#fc8f6f"/>
<rect x="465" y="300" width="12" height="13" fill="#67000d"/>
<rect x="477" y="300" width="13" height="13" fill="#ffede5"/>
<rect x="490" y="300" width="26" height="13" fill="#fff1eb"/>
<rect x="516" y="300" width="13" height="13" fill="#ffede5"/>
<rect x="529" y="300" width="12" height="13" fill="#fff1eb"/>
<rect x="541" y="300" width="39" height="13" fill="#fff5f0"/>
<rect x="631" y="300" width="13" height="13" fill="#fff5f0"/>
<rect x="121" y="313" width="13" height="13" fill="#ffede5"/>
<rect x="134" y="313" width="12" height="13" fill="#fee9df"/>
<rect x="146" y="313" width="13" height="13" fill="#fee5d9"/>
<rect x="159" y="313" width="13" height="13" fill="#fb7050"/>
<rect x="172" y="313" width="25" height="13" fill="#ffede5"/>
<rect x="197" y="313" width="13" height="13" fill="#fee5d9"/>
<rect x="210" y="313" width="13" height="13" fill="#fcc1a9"/>
<rect x="223" y="313" width="12" height="13" fill="#ffede5"/>
<rect x="235" y="313" width="13" height="13" fill="#fed7c6"/>
<rect x="248" y="313" width="13" height="13" fill="#ffede5"/>
<rect x="261" y="313" width="13" height="13" fill="#fc9c7d"/>
<rect x="274" y="313" width="12" height="13" fill="#fc8060"/>
<rect x="286" y="313" width="13" height="13" fill="#fee5d9"/>
<rect x="299" y="313" width="13" height="13" fill="#ffede5"/>
<rect x="312" y="313" width="13" height="13" fill="#fee5d9"/>
<rect x="325" y="313" width="12" height="13" fill="#fca98c"/>
<rect x="337" y="313" width="13" height="13" fill="#fee5d9"/>
<rect x="350" y="313" width="13" height="13" fill="#fcb59a"/>
<rect x="363" y="313" width="25" height="13" fill="#fcc1a9"/>
<rect x="388" y="313" width="13" height="13" fill="#ad1117"/>
<rect x="401" y="313" width="13" height="13" fill="#f45039"/>
<rect x="414" y="313" width="12" height="13" fill="#fc8060"/>
<rect x="426" y="313" width="13" height="13" fill="#ad1117"/>
<rect x="439" y="313" width="13" height="13" fill="#f03f2e"/>
<rect x="452" y="313" width="13" height="13" fill="#f45039"/>
<rect x="465" y="313" width="12" height="13" fill="#fcb59a"/>
<rect x="477" y="313" width="13" height="13" fill="#fed7c6"/>
<rect x="490" y="313" width="13" height="13" fill="#fee0d2"/>
<rect x="503" y="313" width="13" height="13" fill="#fca98c"/>
<rect x="516" y="313" width="13" height="13" fill="#fee9df"/>
<rect x="529" y="313" width="12" height="13" fill="#ffede5"/>
<rect x="541" y="313" width="103" height="13" fill="#fff5f0"/>
<rect x="121" y="326" width="13" height="13" fill="#fed7c6"/>
<rect x="134" y="326" width="12" height="13" fill="#ffede5"/>
<rect x="146" y="326" width="13" height="13" fill="#fca98c"/>
<rect x="159" y="326" width="13" height="13" fill="#f96144"/>
<rect x="172" y="326" width="13" height="13" fill="#fee5d9"/>
<rect x="185" y="326" width="12" height="13" fill="#fcc1a9"/>
<rect x="197" y="326" width="13" height="13" fill="#fee5d9"/>
<rect x="210" y="326" width="13" height="13" fill="#fee9df"/>
<rect x="223" y="326" width="12" height="13" fill="#ffede5"/>
<rect x="235" y="326" width="13" height="13" fill="#fcc1a9"/>
<rect x="248" y="326" width="13" height="13" fill="#fee9df"/>
<rect x="261" y="326" width="13" height="13" fill="#fc8f6f"/>
<rect x="274" y="326" width="12" height="13" fill="#fdccb8"/>
<rect x="286" y="326" width="13" height="13" fill="#fed7c6"/>
<rect x="299" y="326" width="13" height="13" fill="#fee9df"/>
<rect x="312" y="326" width="13" height="13" fill="#fee5d9"/>
<rect x="325" y="326" width="12" height="13" fill="#fc9c7d"/>
<rect x="337" y="326" width="13" height="13" fill="#fed7c6"/>
<rect x="350" y="326" width="13" height="13" fill="#67000d"/>
<rect x="363" y="326" width="12" height="13" fill="#fca98c"/>
<rect x="375" y="326" width="13" height="13" fill="#8a0811"/>
<rect x="388" y="326" width="13" height="13" fill="#67000d"/>
<rect x="401" y="326" width="25" height="13" fill="#fc8f6f"/>
<rect x="426" y="326" width="26" height="13" fill="#67000d"/>
<rect x="452" y="326" width="13" height="13" fill="#fc8060"/>
<rect x="465" y="326" width="12" height="13" fill="#fca98c"/>
<rect x="477" y="326" width="13" height="13" fill="#fee5d9"/>
<rect x="490" y="326" width="13" height="13" fill="#ffede5"/>
<rect x="503" y="326" width="13" height="13" fill="#fff1eb"/>
<rect x="516" y="326" width="13" height="13" fill="#fee5d9"/>
<rect x="529" y="326" width="12" height="13" fill="#ffede5"/>
<rect x="541" y="326" width="77" height="13" fill="#fff5f0"/>
<rect x="121" y="339" width="25" height="14" fill="#fff1eb"/>
<rect x="146" y="339" width="39" height="14" fill="#ffede5"/>
<rect x="185" y="339" width="25" height="14" fill="#fff1eb"/>
<rect x="210" y="339" width="13" height="14" fill="#ffede5"/>
<rect x="223" y="339" width="12" height="14" fill="#fee0d2"/>
<rect x="235" y="339" width="13" height="14" fill="#fca98c"/>
<rect x="248" y="339" width="13" height="14" fill="#fed7c6"/>
<rect x="261" y="339" width="25" height="14" fill="#ffede5"/>
<rect x="286" y="339" width="13" height="14" fill="#fee0d2"/>
<rect x="299" y="339" width="26" height="14" fill="#ffede5"/>
<rect x="325" y="339" width="25" height="14" fill="#fee5d9"/>
<rect x="350" y="339" width="13" height="14" fill="#fdccb8"/>
<rect x="363" y="339" width="12" height="14" fill="#fee5d9"/>
<rect x="375" y="339" width="13" height="14" fill="#fee0d2"/>
<rect x="388" y="339" width="13" height="14" fill="#fca98c"/>
<rect x="401" y="339" width="13" height="14" fill="#fc9c7d"/>
<rect x="414" y="339" width="12" height="14" fill="#f45039"/>
<rect x="426" y="339" width="13" height="14" fill="#e53128"/>
<rect x="439" y="339" width="13" height="14" fill="#fca98c"/>
<rect x="452" y="339" width="13" height="14" fill="#fb7050"/>
<rect x="465" y="339" width="12" height="14" fill="#fee0d2"/>
<rect x="477" y="339" width="13" height="14" fill="#fca98c"/>
<rect x="490" y="339" width="39" height="14" fill="#fee5d9"/>
<rect x="529" y="339" width="12" height="14" fill="#ffede5"/>
<rect x="541" y="339" width="26" height="14" fill="#fff1eb"/>
<rect x="567" y="339" width="64" height="14" fill="#fff5f0"/>
<rect x="121" y="353" width="25" height="13" fill="#fff1eb"/>
<rect x="146" y="353" width="13" height="13" fill="#fee5d9"/>
<rect x="159" y="353" width="13" height="13" fill="#ffede5"/>
<rect x="172" y="353" width="63" height="13" fill="#fff1eb"/>
<rect x="235" y="353" width="13" height="13" fill="#fed7c6"/>
<rect x="248" y="353" width="13" height="13" fill="#ffede5"/>
<rect x="261" y="353" width="13" height="13" fill="#fff1eb"/>
<rect x="274" y="353" width="12" height="13" fill="#fee5d9"/>
<rect x="286" y="353" width="51" height="13" fill="#ffede5"/>
<rect x="337" y="353" width="13" height="13" fill="#fee5d9"/>
<rect x="350" y="353" width="13" height="13" fill="#fb7050"/>
<rect x="363" y="353" width="12" height="13" fill="#fee5d9"/>
<rect x="375" y="353" width="13" height="13" fill="#fee0d2"/>
<rect x="388" y="353" width="13" height="13" fill="#f03f2e"/>
<rect x="401" y="353" width="13" height="13" fill="#fdccb8"/>
<rect x="414" y="353" width="12" height="13" fill="#fca98c"/>
<rect x="426" y="353" width="13" height="13" fill="#fb7050"/>
<rect x="439" y="353" width="13" height="13" fill="#fc8f6f"/>
<rect x="452" y="353" width="13" height="13" fill="#fca98c"/>
<rect x="465" y="353" width="12" height="13" fill="#fee9df"/>
<rect x="477" y="353" width="13" height="13" fill="#fed7c6"/>
<rect x="490" y="353" width="26" height="13" fill="#ffede5"/>
<rect x="516" y="353" width="13" height="13" fill="#fee0d2"/>
<rect x="529" y="353" width="12" height="13" fill="#fff1eb"/>
<rect x="541" y="353" width="65" height="13" fill="#fff5f0"/>
<rect x="631" y="353" width="13" height="13" fill="#fff5f0"/>
<rect x="121" y="366" width="13" height="13" fill="#fcc1a9"/>
<rect x="134" y="366" width="12" height="13" fill="#ffede5"/>
<rect x="146" y="366" width="13" height="13" fill="#fee5d9"/>
<rect x="159" y="366" width="13" height="13" fill="#fcc1a9"/>
<rect x="172" y="366" width="25" height="13" fill="#ffede5"/>
<rect x="197" y="366" width="13" height="13" fill="#67000d"/>
<rect x="210" y="366" width="13" height="13" fill="#ffede5"/>
<rect x="223" y="366" width="25" height="13" fill="#fee5d9"/>
<rect x="248" y="366" width="13" height="13" fill="#fcc1a9"/>
<rect x="261" y="366" width="13" height="13" fill="#fee5d9"/>
<rect x="274" y="366" width="12" height="13" fill="#fcc1a9"/>
<rect x="286" y="366" width="13" height="13" fill="#fee0d2"/>
<rect x="299" y="366" width="26" height="13" fill="#ffede5"/>
<rect x="325" y="366" width="12" height="13" fill="#fee0d2"/>
<rect x="337" y="366" width="13" height="13" fill="#fca98c"/>
<rect x="350" y="366" width="13" height="13" fill="#fc8f6f"/>
<rect x="363" y="366" width="12" height="13" fill="#fee0d2"/>
<rect x="375" y="366" width="13" height="13" fill="#fcc1a9"/>
<rect x="388" y="366" width="13" height="13" fill="#fc9c7d"/>
<rect x="401" y="366" width="13" height="13" fill="#fed7c6"/>
<rect x="414" y="366" width="12" height="13" fill="#fc8060"/>
<rect x="426" y="366" width="13" height="13" fill="#dd2a25"/>
<rect x="439" y="366" width="13" height="13" fill="#cb181d"/>
<rect x="452" y="366" width="13" height="13" fill="#f45039"/>
<rect x="465" y="366" width="12" height="13" fill="#fb7050"/>
<rect x="477" y="366" width="13" height="13" fill="#fed7c6"/>
<rect x="490" y="366" width="13" height="13" fill="#fee9df"/>
<rect x="503" y="366" width="13" height="13" fill="#fcc1a9"/>
<rect x="516" y="366" width="13" height="13" fill="#fee9df"/>
<rect x="529" y="366" width="12" height="13" fill="#fee5d9"/>
<rect x="541" y="366" width="13" height="13" fill="#ffede5"/>
<rect x="554" y="366" width="13" height="13" fill="#fff1eb"/>
<rect x="580" y="366" width="13" height="13" fill="#fff5f0"/>
<rect x="121" y="379" width="13" height="13" fill="#fee5d9"/>
<rect x="134" y="379" width="12" height="13" fill="#ffede5"/>
<rect x="146" y="379" width="13" height="13" fill="#fc8f6f"/>
<rect x="159" y="379" width="26" height="13" fill="#fee9df"/>
<rect x="185" y="379" width="25" height="13" fill="#ffede5"/>
<rect x="210" y="379" width="13" height="13" fill="#fff1eb"/>
<rect x="223" y="379" width="12" height="13" fill="#ffede5"/>
<rect x="235" y="379" width="13" height="13" fill="#fca98c"/>
<rect x="248" y="379" width="13" height="13" fill="#fee0d2"/>
<rect x="261" y="379" width="13" height="13" fill="#fee5d9"/>
<rect x="274" y="379" width="12" height="13" fill="#fcc1a9"/>
<rect x="286" y="379" width="13" height="13" fill="#ffede5"/>
<rect x="299" y="379" width="13" height="13" fill="#fed7c6"/>
<rect x="312" y="379" width="13" height="13" fill="#fdccb8"/>
<rect x="325" y="379" width="25" height="13" fill="#fed7c6"/>
<rect x="350" y="379" width="13" height="13" fill="#cb181d"/>
<rect x="363" y="379" width="12" height="13" fill="#fc8f6f"/>
<rect x="375" y="379" width="13" height="13" fill="#67000d"/>
<rect x="388" y="379" width="13" height="13" fill="#8a0811"/>
<rect x="401" y="379" width="25" height="13" fill="#f03f2e"/>
<rect x="426" y="379" width="13" height="13" fill="#67000d"/>
<rect x="439" y="379" width="13" height="13" fill="#fc9c7d"/>
<rect x="452" y="379" width="13" height="13" fill="#67000d"/>
<rect x="465" y="379" width="12" height="13" fill="#fc8f6f"/>
<rect x="477" y="379" width="13" height="13" fill="#fca98c"/>
<rect x="490" y="379" width="13" height="13" fill="#fee0d2"/>
<rect x="503" y="379" width="13" height="13" fill="#ffede5"/>
<rect x="516" y="379" width="13" height="13" fill="#fee0d2"/>
<rect x="529" y="379" width="12" height="13" fill="#fff1eb"/>
<rect x="541" y="379" width="39" height="13" fill="#fff5f0"/>
<rect x="593" y="379" width="13" height="13" fill="#fff5f0"/>
<rect x="210" y="392" width="13" height="13" fill="#fff1eb"/>
<rect x="274" y="392" width="25" height="13" fill="#fff5f0"/>
<rect x="299" y="392" width="13" height="13" fill="#ffede5"/>
<rect x="312" y="392" width="13" height="13" fill="#fcc1a9"/>
<rect x="325" y="392" width="12" height="13" fill="#fee5d9"/>
<rect x="337" y="392" width="38" height="13" fill="#ffede5"/>
<rect x="375" y="392" width="13" height="13" fill="#fee0d2"/>
<rect x="388" y="392" width="13" height="13" fill="#fcc1a9"/>
<rect x="401" y="392" width="13" height="13" fill="#fed7c6"/>
<rect x="414" y="392" width="12" height="13" fill="#fb7050"/>
<rect x="426" y="392" width="13" height="13" fill="#78040f"/>
<rect x="439" y="392" width="13" height="13" fill="#f45039"/>
<rect x="452" y="392" width="13" height="13" fill="#78040f"/>
<rect x="465" y="392" width="12" height="13" fill="#e53128"/>
<rect x="477" y="392" width="13" height="13" fill="#fca98c"/>
<rect x="490" y="392" width="39" height="13" fill="#ffede5"/>
<rect x="567" y="392" width="13" height="13" fill="#fff5f0"/>
<rect x="121" y="405" width="13" height="13" fill="#fee5d9"/>
<rect x="134" y="405" width="12" height="13" fill="#ffede5"/>
<rect x="146" y="405" width="13" height="13" fill="#fee0d2"/>
<rect x="159" y="405" width="13" height="13" fill="#fca98c"/>
<rect x="172" y="405" width="38" height="13" fill="#ffede5"/>
<rect x="210" y="405" width="13" height="13" fill="#fcc1a9"/>
<rect x="223" y="405" width="12" height="13" fill="#fff1eb"/>
<rect x="235" y="405" width="13" height="13" fill="#fee5d9"/>
<rect x="248" y="405" width="26" height="13" fill="#ffede5"/>
<rect x="274" y="405" width="12" height="13" fill="#fff1eb"/>
<rect x="286" y="405" width="13" height="13" fill="#fee0d2"/>
<rect x="299" y="405" width="13" height="13" fill="#fee9df"/>
<rect x="312" y="405" width="13" height="13" fill="#ffede5"/>
<rect x="325" y="405" width="12" height="13" fill="#fcc1a9"/>
<rect x="337" y="405" width="13" height="13" fill="#fee5d9"/>
<rect x="350" y="405" width="13" height="13" fill="#fb7050"/>
<rect x="363" y="405" width="12" height="13" fill="#fed7c6"/>
<rect x="375" y="405" width="13" height="13" fill="#fee5d9"/>
<rect x="388" y="405" width="13" height="13" fill="#f03f2e"/>
<rect x="401" y="405" width="13" height="13" fill="#fee5d9"/>
<rect x="414" y="405" width="12" height="13" fill="#fee0d2"/>
<rect x="426" y="405" width="13" height="13" fill="#fed7c6"/>
<rect x="439" y="405" width="13" height="13" fill="#fc8f6f"/>
<rect x="452" y="405" width="13" height="13" fill="#fca98c"/>
<rect x="465" y="405" width="12" height="13" fill="#e53128"/>
<rect x="477" y="405" width="39" height="13" fill="#fff1eb"/>
<rect x="516" y="405" width="13" height="13" fill="#fff5f0"/>
<rect x="541" y="405" width="13" height="13" fill="#fff5f0"/>
<rect x="121" y="418" width="38" height="13" fill="#ffede5"/>
<rect x="159" y="418" width="13" height="13" fill="#fb7050"/>
<rect x="172" y="418" width="13" height="13" fill="#fed7c6"/>
<rect x="185" y="418" width="12" height="13" fill="#fee0d2"/>
<rect x="197" y="418" width="13" height="13" fill="#ffede5"/>
<rect x="210" y="418" width="13" height="13" fill="#fcc1a9"/>
<rect x="223" y="418" width="12" height="13" fill="#fff1eb"/>
<rect x="235" y="418" width="13" height="13" fill="#fee5d9"/>
<rect x="248" y="418" width="13" height="13" fill="#ffede5"/>
<rect x="261" y="418" width="13" height="13" fill="#fee5d9"/>
<rect x="274" y="418" width="12" height="13" fill="#ffede5"/>
<rect x="286" y="418" width="13" height="13" fill="#fed7c6"/>
<rect x="299" y="418" width="13" height="13" fill="#fee9df"/>
<rect x="312" y="418" width="13" height="13" fill="#ffede5"/>
<rect x="325" y="418" width="12" height="13" fill="#fcc1a9"/>
<rect x="337" y="418" width="13" height="13" fill="#fc8f6f"/>
<rect x="350" y="418" width="13" height="13" fill="#fed7c6"/>
<rect x="363" y="418" width="12" height="13" fill="#fee0d2"/>
<rect x="375" y="418" width="13" height="13" fill="#fca98c"/>
<rect x="388" y="418" width="13" height="13" fill="#f45039"/>
<rect x="401" y="418" width="13" height="13" fill="#fc9c7d"/>
<rect x="414" y="418" width="12" height="13" fill="#fed7c6"/>
<rect x="426" y="418" width="13" height="13" fill="#fcc1a9"/>
<rect x="439" y="418" width="13" height="13" fill="#fcb59a"/>
<rect x="452" y="418" width="13" height="13" fill="#fca98c"/>
<rect x="465" y="418" width="12" height="13" fill="#fcc1a9"/>
<rect x="477" y="418" width="13" height="13" fill="#fee5d9"/>
<rect x="490" y="418" width="13" height="13" fill="#ffede5"/>
<rect x="503" y="418" width="13" height="13" fill="#fee5d9"/>
<rect x="516" y="418" width="13" height="13" fill="#ffede5"/>
<rect x="529" y="418" width="12" height="13" fill="#fff1eb"/>
<rect x="541" y="418" width="65" height="13" fill="#fff5f0"/>
<rect x="121" y="431" width="13" height="13" fill="#fee5d9"/>
<rect x="134" y="431" width="12" height="13" fill="#ffede5"/>
<rect x="146" y="431" width="13" height="13" fill="#fed7c6"/>
<rect x="159" y="431" width="38" height="13" fill="#ffede5"/>
<rect x="197" y="431" width="13" height="13" fill="#fee5d9"/>
<rect x="210" y="431" width="13" height="13" fill="#ffede5"/>
<rect x="223" y="431" width="12" height="13" fill="#fee0d2"/>
<rect x="235" y="431" width="13" height="13" fill="#fee5d9"/>
<rect x="248" y="431" width="13" height="13" fill="#ffede5"/>
<rect x="261" y="431" width="13" height="13" fill="#67000d"/>
<rect x="274" y="431" width="12" height="13" fill="#fee5d9"/>
<rect x="286" y="431" width="13" height="13" fill="#ffede5"/>
<rect x="299" y="431" width="13" height="13" fill="#fee9df"/>
<rect x="312" y="431" width="13" height="13" fill="#fdccb8"/>
<rect x="325" y="431" width="25" height="13" fill="#fee5d9"/>
<rect x="350" y="431" width="13" height="13" fill="#fc8060"/>
<rect x="363" y="431" width="12" height="13" fill="#fed7c6"/>
<rect x="375" y="431" width="13" height="13" fill="#fcc1a9"/>
<rect x="388" y="431" width="13" height="13" fill="#f45039"/>
<rect x="401" y="431" width="25" height="13" fill="#fc8f6f"/>
<rect x="426" y="431" width="13" height="13" fill="#67000d"/>
<rect x="439" y="431" width="13" height="13" fill="#fcb59a"/>
<rect x="452" y="431" width="13" height="13" fill="#f45039"/>
<rect x="465" y="431" width="12" height="13" fill="#fca98c"/>
<rect x="477" y="431" width="13" height="13" fill="#fdccb8"/>
<rect x="490" y="431" width="26" height="13" fill="#fee0d2"/>
<rect x="516" y="431" width="13" height="13" fill="#fee5d9"/>
<rect x="529" y="431" width="25" height="13" fill="#fff1eb"/>
<rect x="554" y="431" width="52" height="13" fill="#fff5f0"/>
<rect x="121" y="444" width="13" height="14" fill="#fed7c6"/>
<rect x="134" y="444" width="12" height="14" fill="#fee9df"/>
<rect x="146" y="444" width="13" height="14" fill="#fee0d2"/>
<rect x="159" y="444" width="13" height="14" fill="#9e0d14"/>
<rect x="172" y="444" width="13" height="14" fill="#fee9df"/>
<rect x="185" y="444" width="12" height="14" fill="#fcc1a9"/>
<rect x="197" y="444" width="13" height="14" fill="#ffede5"/>
<rect x="210" y="444" width="13" height="14" fill="#fc8f6f"/>
<rect x="223" y="444" width="12" height="14" fill="#ffede5"/>
<rect x="235" y="444" width="13" height="14" fill="#fee5d9"/>
<rect x="248" y="444" width="13" height="14" fill="#ffede5"/>
<rect x="261" y="444" width="13" height="14" fill="#fee5d9"/>
<rect x="274" y="444" width="12" height="14" fill="#ffede5"/>
<rect x="286" y="444" width="13" height="14" fill="#fed7c6"/>
<rect x="299" y="444" width="13" height="14" fill="#ffede5"/>
<rect x="312" y="444" width="13" height="14" fill="#fee5d9"/>
<rect x="325" y="444" width="12" height="14" fill="#ad1117"/>
<rect x="337" y="444" width="13" height="14" fill="#fca98c"/>
<rect x="350" y="444" width="13" height="14" fill="#fcc1a9"/>
<rect x="363" y="444" width="12" height="14" fill="#fed7c6"/>
<rect x="375" y="444" width="13" height="14" fill="#fdccb8"/>
<rect x="388" y="444" width="13" height="14" fill="#e53128"/>
<rect x="401" y="444" width="13" height="14" fill="#f96144"/>
<rect x="414" y="444" width="12" height="14" fill="#fcc1a9"/>
<rect x="426" y="444" width="13" height="14" fill="#fcb59a"/>
<rect x="439" y="444" width="13" height="14" fill="#fc8f6f"/>
<rect x="452" y="444" width="13" height="14" fill="#fca98c"/>
<rect x="465" y="444" width="12" height="14" fill="#fcb59a"/>
<rect x="477" y="444" width="13" height="14" fill="#fee5d9"/>
<rect x="490" y="444" width="64" height="14" fill="#ffede5"/>
<rect x="554" y="444" width="52" height="14" fill="#fff5f0"/>
<rect x="618" y="444" width="13" height="14" fill="#fff5f0"/>
<rect x="121" y="458" width="13" height="13" fill="#ffede5"/>
<rect x="134" y="458" width="12" height="13" fill="#fee9df"/>
<rect x="146" y="458" width="39" height="13" fill="#ffede5"/>
<rect x="185" y="458" width="12" height="13" fill="#fff1eb"/>
<rect x="197" y="458" width="13" height="13" fill="#ffede5"/>
<rect x="210" y="458" width="13" height="13" fill="#fc8f6f"/>
<rect x="223" y="458" width="12" height="13" fill="#ffede5"/>
<rect x="235" y="458" width="13" height="13" fill="#fee9df"/>
<rect x="248" y="458" width="38" height="13" fill="#ffede5"/>
<rect x="286" y="458" width="13" height="13" fill="#fee5d9"/>
<rect x="299" y="458" width="13" height="13" fill="#ffede5"/>
<rect x="312" y="458" width="13" height="13" fill="#fff1eb"/>
<rect x="325" y="458" width="12" height="13" fill="#fc8f6f"/>
<rect x="337" y="458" width="13" height="13" fill="#fee5d9"/>
<rect x="350" y="458" width="13" height="13" fill="#fee9df"/>
<rect x="363" y="458" width="12" height="13" fill="#fed7c6"/>
<rect x="375" y="458" width="13" height="13" fill="#67000d"/>
<rect x="388" y="458" width="13" height="13" fill="#fee5d9"/>
<rect x="401" y="458" width="13" height="13" fill="#fc9c7d"/>
<rect x="414" y="458" width="12" height="13" fill="#fee0d2"/>
<rect x="426" y="458" width="13" height="13" fill="#fb7050"/>
<rect x="439" y="458" width="13" height="13" fill="#fc8060"/>
<rect x="452" y="458" width="13" height="13" fill="#fc9c7d"/>
<rect x="465" y="458" width="12" height="13" fill="#fed7c6"/>
<rect x="477" y="458" width="13" height="13" fill="#fee0d2"/>
<rect x="490" y="458" width="13" height="13" fill="#fee5d9"/>
<rect x="503" y="458" width="13" height="13" fill="#ffede5"/>
<rect x="516" y="458" width="13" height="13" fill="#fee5d9"/>
<rect x="529" y="458" width="12" height="13" fill="#ffede5"/>
<rect x="541" y="458" width="52" height="13" fill="#fff5f0"/>
<rect x="618" y="458" width="26" height="13" fill="#fff5f0"/>
<rect x="121" y="471" width="13" height="13" fill="#fc8f6f"/>
<rect x="134" y="471" width="12" height="13" fill="#ffede5"/>
<rect x="146" y="471" width="13" height="13" fill="#fee0d2"/>
<rect x="159" y="471" width="26" height="13" fill="#fee5d9"/>
<rect x="185" y="471" width="12" height="13" fill="#fcb59a"/>
<rect x="197" y="471" width="77" height="13" fill="#ffede5"/>
<rect x="274" y="471" width="25" height="13" fill="#fee9df"/>
<rect x="299" y="471" width="13" height="13" fill="#ffede5"/>
<rect x="312" y="471" width="13" height="13" fill="#fee9df"/>
<rect x="325" y="471" width="12" height="13" fill="#fed7c6"/>
<rect x="337" y="471" width="13" height="13" fill="#fee9df"/>
<rect x="350" y="471" width="13" height="13" fill="#67000d"/>
<rect x="363" y="471" width="12" height="13" fill="#fc8f6f"/>
<rect x="375" y="471" width="13" height="13" fill="#fc8060"/>
<rect x="388" y="471" width="13" height="13" fill="#67000d"/>
<rect x="401" y="471" width="13" height="13" fill="#fee5d9"/>
<rect x="414" y="471" width="12" height="13" fill="#fca98c"/>
<rect x="426" y="471" width="13" height="13" fill="#cb181d"/>
<rect x="439" y="471" width="13" height="13" fill="#f45039"/>
<rect x="452" y="471" width="13" height="13" fill="#fc9c7d"/>
<rect x="465" y="471" width="12" height="13" fill="#fdccb8"/>
<rect x="477" y="471" width="13" height="13" fill="#fee5d9"/>
<rect x="490" y="471" width="13" height="13" fill="#ffede5"/>
<rect x="503" y="471" width="13" height="13" fill="#fed7c6"/>
<rect x="516" y="471" width="25" height="13" fill="#ffede5"/>
<rect x="541" y="471" width="52" height="13" fill="#fff5f0"/>
<rect x="121" y="484" width="13" height="13" fill="#fee5d9"/>
<rect x="134" y="484" width="12" height="13" fill="#ffede5"/>
<rect x="146" y="484" width="13" height="13" fill="#fca98c"/>
<rect x="159" y="484" width="13" height="13" fill="#ffede5"/>
<rect x="172" y="484" width="13" height="13" fill="#fff1eb"/>
<rect x="185" y="484" width="25" height="13" fill="#fee5d9"/>
<rect x="210" y="484" width="13" height="13" fill="#ffede5"/>
<rect x="223" y="484" width="12" height="13" fill="#fee5d9"/>
<rect x="235" y="484" width="13" height="13" fill="#fed7c6"/>
<rect x="248" y="484" width="26" height="13" fill="#ffede5"/>
<rect x="274" y="484" width="25" height="13" fill="#fee0d2"/>
<rect x="299" y="484" width="26" height="13" fill="#ffede5"/>
<rect x="325" y="484" width="12" height="13" fill="#fca98c"/>
<rect x="337" y="484" width="13" height="13" fill="#fee0d2"/>
<rect x="350" y="484" width="13" height="13" fill="#fed7c6"/>
<rect x="363" y="484" width="12" height="13" fill="#fc9c7d"/>
<rect x="375" y="484" width="13" height="13" fill="#fca98c"/>
<rect x="388" y="484" width="13" height="13" fill="#fc8060"/>
<rect x="401" y="484" width="13" height="13" fill="#fb7050"/>
<rect x="414" y="484" width="12" height="13" fill="#fca98c"/>
<rect x="426" y="484" width="13" height="13" fill="#e53128"/>
<rect x="439" y="484" width="13" height="13" fill="#f45039"/>
<rect x="452" y="484" width="13" height="13" fill="#f96144"/>
<rect x="465" y="484" width="12" height="13" fill="#fcc1a9"/>
<rect x="477" y="484" width="13" height="13" fill="#fee5d9"/>
<rect x="490" y="484" width="13" height="13" fill="#fee9df"/>
<rect x="503" y="484" width="13" height="13" fill="#fee5d9"/>
<rect x="516" y="484" width="25" height="13" fill="#ffede5"/>
<rect x="541" y="484" width="52" height="13" fill="#fff5f0"/>
<rect x="606" y="484" width="12" height="13" fill="#fff5f0"/>
<rect x="631" y="484" width="13" height="13" fill="#fff5f0"/>
<rect x="121" y="497" width="13" height="13" fill="#ffede5"/>
<rect x="134" y="497" width="12" height="13" fill="#fff1eb"/>
<rect x="146" y="497" width="13" height="13" fill="#fee0d2"/>
<rect x="159" y="497" width="38" height="13" fill="#fff1eb"/>
<rect x="197" y="497" width="26" height="13" fill="#fff5f0"/>
<rect x="223" y="497" width="12" height="13" fill="#fee5d9"/>
<rect x="235" y="497" width="13" height="13" fill="#fc8f6f"/>
<rect x="248" y="497" width="13" height="13" fill="#fee0d2"/>
<rect x="261" y="497" width="13" height="13" fill="#ffede5"/>
<rect x="274" y="497" width="12" height="13" fill="#fee5d9"/>
<rect x="286" y="497" width="13" height="13" fill="#ffede5"/>
<rect x="299" y="497" width="13" height="13" fill="#fff5f0"/>
<rect x="312" y="497" width="13" height="13" fill="#fc8f6f"/>
<rect x="325" y="497" width="12" height="13" fill="#fee5d9"/>
<rect x="337" y="497" width="13" height="13" fill="#fed7c6"/>
<rect x="350" y="497" width="13" height="13" fill="#fca98c"/>
<rect x="363" y="497" width="12" height="13" fill="#fee5d9"/>
<rect x="375" y="497" width="13" height="13" fill="#fca98c"/>
<rect x="388" y="497" width="13" height="13" fill="#67000d"/>
<rect x="401" y="497" width="13" height="13" fill="#fb7050"/>
<rect x="414" y="497" width="12" height="13" fill="#f45039"/>
<rect x="426" y="497" width="13" height="13" fill="#cb181d"/>
<rect x="439" y="497" width="26" height="13" fill="#fb7050"/>
<rect x="465" y="497" width="12" height="13" fill="#fcc1a9"/>
<rect x="477" y="497" width="13" height="13" fill="#fdccb8"/>
<rect x="490" y="497" width="13" height="13" fill="#fee5d9"/>
<rect x="503" y="497" width="13" height="13" fill="#ffede5"/>
<rect x="516" y="497" width="13" height="13" fill="#fee5d9"/>
<rect x="529" y="497" width="25" height="13" fill="#fff5f0"/>
<rect x="554" y="497" width="13" height="13" fill="#fff1eb"/>
<rect x="567" y="497" width="77" height="13" fill="#fff5f0"/>
<rect x="121" y="510" width="13" height="13" fill="#fcc1a9"/>
<rect x="134" y="510" width="25" height="13" fill="#fee9df"/>
<rect x="159" y="510" width="26" height="13" fill="#ffede5"/>
<rect x="185" y="510" width="12" height="13" fill="#fee9df"/>
<rect x="197" y="510" width="13" height="13" fill="#fed7c6"/>
<rect x="210" y="510" width="38" height="13" fill="#fee5d9"/>
<rect x="248" y="510" width="13" height="13" fill="#fee9df"/>
<rect x="261" y="510" width="25" height="13" fill="#fee5d9"/>
<rect x="286" y="510" width="13" height="13" fill="#fed7c6"/>
<rect x="299" y="510" width="13" height="13" fill="#ffede5"/>
<rect x="312" y="510" width="13" height="13" fill="#fb7050"/>
<rect x="325" y="510" width="12" height="13" fill="#fc8f6f"/>
<rect x="337" y="510" width="13" height="13" fill="#fee5d9"/>
<rect x="350" y="510" width="25" height="13" fill="#fed7c6"/>
<rect x="375" y="510" width="13" height="13" fill="#fca98c"/>
<rect x="388" y="510" width="13" height="13" fill="#fb7050"/>
<rect x="401" y="510" width="13" height="13" fill="#f03f2e"/>
<rect x="414" y="510" width="12" height="13" fill="#fb7050"/>
<rect x="426" y="510" width="13" height="13" fill="#f45039"/>
<rect x="439" y="510" width="13" height="13" fill="#fc8060"/>
<rect x="452" y="510" width="13" height="13" fill="#fb7050"/>
<rect x="465" y="510" width="12" height="13" fill="#fc8060"/>
<rect x="477" y="510" width="13" height="13" fill="#fcc1a9"/>
<rect x="490" y="510" width="26" height="13" fill="#ffede5"/>
<rect x="516" y="510" width="13" height="13" fill="#fee0d2"/>
<rect x="529" y="510" width="12" height="13" fill="#ffede5"/>
<rect x="541" y="510" width="13" height="13" fill="#fff1eb"/>
<rect x="554" y="510" width="52" height="13" fill="#fff5f0"/>
<rect x="121" y="523" width="38" height="13" fill="#ffede5"/>
<rect x="159" y="523" width="13" height="13" fill="#fee5d9"/>
<rect x="172" y="523" width="13" height="13" fill="#fcc1a9"/>
<rect x="185" y="523" width="12" height="13" fill="#fee9df"/>
<rect x="197" y="523" width="13" height="13" fill="#fff1eb"/>
<rect x="210" y="523" width="13" height="13" fill="#ffede5"/>
<rect x="223" y="523" width="12" height="13" fill="#fff1eb"/>
<rect x="235" y="523" width="13" height="13" fill="#ffede5"/>
<rect x="248" y="523" width="13" height="13" fill="#fff1eb"/>
<rect x="261" y="523" width="25" height="13" fill="#ffede5"/>
<rect x="286" y="523" width="13" height="13" fill="#fee0d2"/>
<rect x="299" y="523" width="26" height="13" fill="#ffede5"/>
<rect x="325" y="523" width="12" height="13" fill="#fcb59a"/>
<rect x="337" y="523" width="13" height="13" fill="#fed7c6"/>
<rect x="350" y="523" width="25" height="13" fill="#fee9df"/>
<rect x="375" y="523" width="13" height="13" fill="#fee5d9"/>
<rect x="388" y="523" width="13" height="13" fill="#fee0d2"/>
<rect x="401" y="523" width="13" height="13" fill="#fcc1a9"/>
<rect x="414" y="523" width="12" height="13" fill="#fee0d2"/>
<rect x="426" y="523" width="39" height="13" fill="#fcc1a9"/>
<rect x="465" y="523" width="12" height="13" fill="#fee9df"/>
<rect x="477" y="523" width="13" height="13" fill="#ffede5"/>
<rect x="490" y="523" width="13" height="13" fill="#fff5f0"/>
<rect x="503" y="523" width="38" height="13" fill="#fff1eb"/>
<rect x="541" y="523" width="26" height="13" fill="#fff5f0"/>
<rect x="567" y="523" width="13" height="13" fill="#fff1eb"/>
<rect x="606" y="523" width="25" height="13" fill="#fff5f0"/>
<rect x="121" y="536" width="25" height="14" fill="#ffede5"/>
<rect x="146" y="536" width="13" height="14" fill="#fee9df"/>
<rect x="159" y="536" width="13" height="14" fill="#fb7050"/>
<rect x="172" y="536" width="13" height="14" fill="#fff1eb"/>
<rect x="185" y="536" width="12" height="14" fill="#ffede5"/>
<rect x="197" y="536" width="13" height="14" fill="#fff5f0"/>
<rect x="210" y="536" width="13" height="14" fill="#8a0811"/>
<rect x="223" y="536" width="12" height="14" fill="#fff5f0"/>
<rect x="235" y="536" width="39" height="14" fill="#ffede5"/>
<rect x="274" y="536" width="12" height="14" fill="#fff1eb"/>
<rect x="286" y="536" width="13" height="14" fill="#fee5d9"/>
<rect x="299" y="536" width="13" height="14" fill="#fff1eb"/>
<rect x="312" y="536" width="13" height="14" fill="#fca98c"/>
<rect x="325" y="536" width="25" height="14" fill="#ffede5"/>
<rect x="350" y="536" width="13" height="14" fill="#fdccb8"/>
<rect x="363" y="536" width="12" height="14" fill="#fc9c7d"/>
<rect x="375" y="536" width="13" height="14" fill="#fff1eb"/>
<rect x="388" y="536" width="13" height="14" fill="#fc8060"/>
<rect x="401" y="536" width="13" height="14" fill="#fee0d2"/>
<rect x="414" y="536" width="12" height="14" fill="#ffede5"/>
<rect x="426" y="536" width="13" height="14" fill="#fcc1a9"/>
<rect x="439" y="536" width="13" height="14" fill="#e53128"/>
<rect x="452" y="536" width="13" height="14" fill="#fca98c"/>
<rect x="465" y="536" width="12" height="14" fill="#8a0811"/>
<rect x="477" y="536" width="13" height="14" fill="#ffede5"/>
<rect x="503" y="536" width="26" height="14" fill="#ffede5"/>
<rect x="529" y="536" width="12" height="14" fill="#fcc1a9"/>
<rect x="541" y="536" width="13" height="14" fill="#ffede5"/>
<rect x="121" y="550" width="25" height="13" fill="#fee5d9"/>
<rect x="146" y="550" width="26" height="13" fill="#fee9df"/>
<rect x="172" y="550" width="13" height="13" fill="#ffede5"/>
<rect x="185" y="550" width="25" height="13" fill="#fff1eb"/>
<rect x="210" y="550" width="13" height="13" fill="#ffede5"/>
<rect x="223" y="550" width="12" height="13" fill="#fff1eb"/>
<rect x="235" y="550" width="26" height="13" fill="#ffede5"/>
<rect x="261" y="550" width="13" height="13" fill="#fb7050"/>
<rect x="274" y="550" width="12" height="13" fill="#fee5d9"/>
<rect x="286" y="550" width="13" height="13" fill="#fed7c6"/>
<rect x="299" y="550" width="26" height="13" fill="#ffede5"/>
<rect x="325" y="550" width="12" height="13" fill="#fee9df"/>
<rect x="337" y="550" width="13" height="13" fill="#fed7c6"/>
<rect x="350" y="550" width="25" height="13" fill="#fee9df"/>
<rect x="375" y="550" width="13" height="13" fill="#fc9c7d"/>
<rect x="388" y="550" width="13" height="13" fill="#fee5d9"/>
<rect x="401" y="550" width="13" height="13" fill="#fc8f6f"/>
<rect x="414" y="550" width="12" height="13" fill="#fee5d9"/>
<rect x="426" y="550" width="13" height="13" fill="#fee0d2"/>
<rect x="439" y="550" width="13" height="13" fill="#fed7c6"/>
<rect x="452" y="550" width="13" height="13" fill="#fca98c"/>
<rect x="465" y="550" width="12" height="13" fill="#fcc1a9"/>
<rect x="477" y="550" width="26" height="13" fill="#fee5d9"/>
<rect x="503" y="550" width="26" height="13" fill="#ffede5"/>
<rect x="529" y="550" width="12" height="13" fill="#fee5d9"/>
<rect x="541" y="550" width="13" height="13" fill="#ffede5"/>
<rect x="554" y="550" width="39" height="13" fill="#fff5f0"/>
<rect x="121" y="563" width="13" height="13" fill="#fee0d2"/>
<rect x="134" y="563" width="12" height="13" fill="#fff5f0"/>
<rect x="146" y="563" width="13" height="13" fill="#fc8f6f"/>
<rect x="159" y="563" width="13" height="13" fill="#fee5d9"/>
<rect x="172" y="563" width="13" height="13" fill="#ffede5"/>
<rect x="185" y="563" width="25" height="13" fill="#fee5d9"/>
<rect x="210" y="563" width="25" height="13" fill="#ffede5"/>
<rect x="235" y="563" width="26" height="13" fill="#fee5d9"/>
<rect x="261" y="563" width="13" height="13" fill="#fee9df"/>
<rect x="274" y="563" width="12" height="13" fill="#fed7c6"/>
<rect x="286" y="563" width="13" height="13" fill="#fee5d9"/>
<rect x="299" y="563" width="38" height="13" fill="#ffede5"/>
<rect x="337" y="563" width="13" height="13" fill="#fee9df"/>
<rect x="350" y="563" width="13" height="13" fill="#e53128"/>
<rect x="363" y="563" width="12" height="13" fill="#fed7c6"/>
<rect x="375" y="563" width="26" height="13" fill="#67000d"/>
<rect x="401" y="563" width="13" height="13" fill="#f96144"/>
<rect x="414" y="563" width="12" height="13" fill="#fc8f6f"/>
<rect x="426" y="563" width="13" height="13" fill="#67000d"/>
<rect x="439" y="563" width="13" height="13" fill="#f03f2e"/>
<rect x="452" y="563" width="13" height="13" fill="#fc8f6f"/>
<rect x="465" y="563" width="12" height="13" fill="#fdccb8"/>
<rect x="477" y="563" width="13" height="13" fill="#fee5d9"/>
<rect x="490" y="563" width="13" height="13" fill="#fcc1a9"/>
<rect x="503" y="563" width="26" height="13" fill="#ffede5"/>
<rect x="529" y="563" width="25" height="13" fill="#fff1eb"/>
<rect x="554" y="563" width="26" height="13" fill="#fff5f0"/>
<rect x="121" y="576" width="13" height="13" fill="#ffede5"/>
<rect x="134" y="576" width="12" height="13" fill="#fee9df"/>
<rect x="146" y="576" width="39" height="13" fill="#ffede5"/>
<rect x="185" y="576" width="12" height="13" fill="#fee9df"/>
<rect x="197" y="576" width="13" height="13" fill="#ffede5"/>
<rect x="210" y="576" width="13" height="13" fill="#fee9df"/>
<rect x="223" y="576" width="12" height="13" fill="#fca98c"/>
<rect x="235" y="576" width="13" height="13" fill="#fee5d9"/>
<rect x="248" y="576" width="13" height="13" fill="#ffede5"/>
<rect x="261" y="576" width="13" height="13" fill="#fff1eb"/>
<rect x="274" y="576" width="12" height="13" fill="#ffede5"/>
<rect x="286" y="576" width="13" height="13" fill="#fca98c"/>
<rect x="299" y="576" width="13" height="13" fill="#fee5d9"/>
<rect x="312" y="576" width="13" height="13" fill="#fff1eb"/>
<rect x="325" y="576" width="12" height="13" fill="#fee9df"/>
<rect x="337" y="576" width="13" height="13" fill="#fcb59a"/>
<rect x="350" y="576" width="13" height="13" fill="#fee0d2"/>
<rect x="363" y="576" width="12" height="13" fill="#fee5d9"/>
<rect x="375" y="576" width="13" height="13" fill="#fcc1a9"/>
<rect x="388" y="576" width="26" height="13" fill="#fca98c"/>
<rect x="414" y="576" width="25" height="13" fill="#fc8f6f"/>
<rect x="439" y="576" width="26" height="13" fill="#fc9c7d"/>
<rect x="465" y="576" width="12" height="13" fill="#fee5d9"/>
<rect x="477" y="576" width="13" height="13" fill="#fee9df"/>
<rect x="490" y="576" width="13" height="13" fill="#fee5d9"/>
<rect x="503" y="576" width="13" height="13" fill="#fee9df"/>
<rect x="516" y="576" width="13" height="13" fill="#fee5d9"/>
<rect x="529" y="576" width="12" height="13" fill="#ffede5"/>
<rect x="541" y="576" width="13" height="13" fill="#fff1eb"/>
<rect x="554" y="576" width="52" height="13" fill="#fff5f0"/>
<rect x="121" y="589" width="25" height="13" fill="#fff1eb"/>
<rect x="146" y="589" width="13" height="13" fill="#ffede5"/>
<rect x="159" y="589" width="51" height="13" fill="#fff1eb"/>
<rect x="210" y="589" width="13" height="13" fill="#ffede5"/>
<rect x="223" y="589" width="12" height="13" fill="#fff1eb"/>
<rect x="235" y="589" width="13" height="13" fill="#fcc1a9"/>
<rect x="248" y="589" width="13" height="13" fill="#fee9df"/>
<rect x="261" y="589" width="25" height="13" fill="#ffede5"/>
<rect x="286" y="589" width="13" height="13" fill="#fff1eb"/>
<rect x="299" y="589" width="13" height="13" fill="#ffede5"/>
<rect x="312" y="589" width="13" height="13" fill="#fcb59a"/>
<rect x="325" y="589" width="12" height="13" fill="#fee5d9"/>
<rect x="337" y="589" width="26" height="13" fill="#fcc1a9"/>
<rect x="363" y="589" width="12" height="13" fill="#fee9df"/>
<rect x="375" y="589" width="13" height="13" fill="#fc9c7d"/>
<rect x="388" y="589" width="13" height="13" fill="#f45039"/>
<rect x="401" y="589" width="13" height="13" fill="#e53128"/>
<rect x="414" y="589" width="12" height="13" fill="#fb7050"/>
<rect x="426" y="589" width="13" height="13" fill="#cb181d"/>
<rect x="439" y="589" width="13" height="13" fill="#fc8060"/>
<rect x="452" y="589" width="13" height="13" fill="#e53128"/>
<rect x="465" y="589" width="12" height="13" fill="#fc8f6f"/>
<rect x="477" y="589" width="13" height="13" fill="#fca98c"/>
<rect x="490" y="589" width="13" height="13" fill="#fed7c6"/>
<rect x="503" y="589" width="13" height="13" fill="#fee0d2"/>
<rect x="516" y="589" width="13" height="13" fill="#fee5d9"/>
<rect x="529" y="589" width="12" height="13" fill="#ffede5"/>
<rect x="541" y="589" width="13" height="13" fill="#fff1eb"/>
<rect x="554" y="589" width="13" height="13" fill="#ffede5"/>
<rect x="567" y="589" width="77" height="13" fill="#fff5f0"/>
<rect x="121" y="602" width="13" height="13" fill="#fff1eb"/>
<rect x="134" y="602" width="51" height="13" fill="#fff5f0"/>
<rect x="185" y="602" width="25" height="13" fill="#fff1eb"/>
<rect x="210" y="602" width="13" height="13" fill="#ffede5"/>
<rect x="223" y="602" width="12" height="13" fill="#fff5f0"/>
<rect x="235" y="602" width="13" height="13" fill="#fee5d9"/>
<rect x="248" y="602" width="13" height="13" fill="#fff1eb"/>
<rect x="261" y="602" width="13" height="13" fill="#f96144"/>
<rect x="274" y="602" width="25" height="13" fill="#fed7c6"/>
<rect x="299" y="602" width="13" height="13" fill="#fee9df"/>
<rect x="312" y="602" width="13" height="13" fill="#ad1117"/>
<rect x="325" y="602" width="12" height="13" fill="#fdccb8"/>
<rect x="337" y="602" width="13" height="13" fill="#e53128"/>
<rect x="350" y="602" width="13" height="13" fill="#fb7050"/>
<rect x="363" y="602" width="12" height="13" fill="#fee5d9"/>
<rect x="375" y="602" width="13" height="13" fill="#f03f2e"/>
<rect x="388" y="602" width="13" height="13" fill="#bc141a"/>
<rect x="401" y="602" width="13" height="13" fill="#fcc1a9"/>
<rect x="414" y="602" width="25" height="13" fill="#67000d"/>
<rect x="439" y="602" width="13" height="13" fill="#f45039"/>
<rect x="452" y="602" width="13" height="13" fill="#e53128"/>
<rect x="465" y="602" width="12" height="13" fill="#fcc1a9"/>
<rect x="477" y="602" width="13" height="13" fill="#f96144"/>
<rect x="490" y="602" width="13" height="13" fill="#fee5d9"/>
<rect x="503" y="602" width="13" height="13" fill="#ffede5"/>
<rect x="516" y="602" width="38" height="13" fill="#fff1eb"/>
<rect x="554" y="602" width="13" height="13" fill="#fff5f0"/>
<rect x="121" y="615" width="13" height="13" fill="#fee0d2"/>
<rect x="134" y="615" width="12" height="13" fill="#fee5d9"/>
<rect x="146" y="615" width="13" height="13" fill="#fff5f0"/>
<rect x="159" y="615" width="13" height="13" fill="#fb7050"/>
<rect x="172" y="615" width="13" height="13" fill="#fff5f0"/>
<rect x="185" y="615" width="12" height="13" fill="#fdccb8"/>
<rect x="197" y="615" width="13" height="13" fill="#ffede5"/>
<rect x="210" y="615" width="13" height="13" fill="#fcc1a9"/>
<rect x="223" y="615" width="12" height="13" fill="#ffede5"/>
<rect x="235" y="615" width="26" height="13" fill="#fee0d2"/>
<rect x="261" y="615" width="13" height="13" fill="#fc8f6f"/>
<rect x="274" y="615" width="12" height="13" fill="#ffede5"/>
<rect x="286" y="615" width="13" height="13" fill="#fee5d9"/>
<rect x="299" y="615" width="26" height="13" fill="#fed7c6"/>
<rect x="325" y="615" width="12" height="13" fill="#fcb59a"/>
<rect x="337" y="615" width="13" height="13" fill="#fca98c"/>
<rect x="350" y="615" width="13" height="13" fill="#fc8f6f"/>
<rect x="363" y="615" width="12" height="13" fill="#fcc1a9"/>
<rect x="375" y="615" width="13" height="13" fill="#fed7c6"/>
<rect x="388" y="615" width="13" height="13" fill="#bc141a"/>
<rect x="401" y="615" width="13" height="13" fill="#fee0d2"/>
<rect x="414" y="615" width="12" height="13" fill="#fee5d9"/>
<rect x="426" y="615" width="13" height="13" fill="#fcb59a"/>
<rect x="439" y="615" width="13" height="13" fill="#f45039"/>
<rect x="452" y="615" width="13" height="13" fill="#fc8f6f"/>
<rect x="465" y="615" width="12" height="13" fill="#f96144"/>
<rect x="477" y="615" width="13" height="13" fill="#fed7c6"/>
<rect x="490" y="615" width="39" height="13" fill="#ffede5"/>
<rect x="529" y="615" width="25" height="13" fill="#fee9df"/>
<rect x="554" y="615" width="26" height="13" fill="#fff5f0"/>
<rect x="121" y="628" width="13" height="13" fill="#fff5f0"/>
<rect x="134" y="628" width="12" height="13" fill="#fdccb8"/>
<rect x="146" y="628" width="26" height="13" fill="#fff5f0"/>
<rect x="172" y="628" width="13" height="13" fill="#ffede5"/>
<rect x="185" y="628" width="12" height="13" fill="#fff1eb"/>
<rect x="197" y="628" width="13" height="13" fill="#ffede5"/>
<rect x="210" y="628" width="13" height="13" fill="#f96144"/>
<rect x="223" y="628" width="38" height="13" fill="#ffede5"/>
<rect x="261" y="628" width="13" height="13" fill="#fff1eb"/>
<rect x="274" y="628" width="25" height="13" fill="#fee5d9"/>
<rect x="299" y="628" width="26" height="13" fill="#ffede5"/>
<rect x="325" y="628" width="12" height="13" fill="#fc8f6f"/>
<rect x="337" y="628" width="13" height="13" fill="#fdccb8"/>
<rect x="350" y="628" width="25" height="13" fill="#fee5d9"/>
<rect x="375" y="628" width="13" height="13" fill="#fca98c"/>
<rect x="388" y="628" width="13" height="13" fill="#fdccb8"/>
<rect x="401" y="628" width="13" height="13" fill="#e53128"/>
<rect x="414" y="628" width="12" height="13" fill="#fee5d9"/>
<rect x="426" y="628" width="13" height="13" fill="#fcb59a"/>
<rect x="439" y="628" width="13" height="13" fill="#fc8f6f"/>
<rect x="452" y="628" width="13" height="13" fill="#fca98c"/>
<rect x="465" y="628" width="12" height="13" fill="#fed7c6"/>
<rect x="477" y="628" width="13" height="13" fill="#fee5d9"/>
<rect x="490" y="628" width="13" height="13" fill="#ffede5"/>
<rect x="503" y="628" width="13" height="13" fill="#fee9df"/>
<rect x="516" y="628" width="13" height="13" fill="#fee5d9"/>
<rect x="529" y="628" width="12" height="13" fill="#ffede5"/>
<rect x="541" y="628" width="13" height="13" fill="#fff1eb"/>
<rect x="554" y="628" width="39" height="13" fill="#fff5f0"/>
<rect x="121" y="641" width="13" height="14" fill="#fc8060"/>
<rect x="134" y="641" width="12" height="14" fill="#ffede5"/>
<rect x="146" y="641" width="13" height="14" fill="#fee9df"/>
<rect x="159" y="641" width="38" height="14" fill="#fee5d9"/>
<rect x="197" y="641" width="13" height="14" fill="#ad1117"/>
<rect x="210" y="641" width="38" height="14" fill="#fee9df"/>
<rect x="248" y="641" width="26" height="14" fill="#ffede5"/>
<rect x="274" y="641" width="12" height="14" fill="#fc9c7d"/>
<rect x="286" y="641" width="13" height="14" fill="#fee5d9"/>
<rect x="299" y="641" width="13" height="14" fill="#ffede5"/>
<rect x="312" y="641" width="13" height="14" fill="#fca98c"/>
<rect x="325" y="641" width="12" height="14" fill="#fdccb8"/>
<rect x="337" y="641" width="13" height="14" fill="#fcb59a"/>
<rect x="350" y="641" width="13" height="14" fill="#fc8f6f"/>
<rect x="363" y="641" width="12" height="14" fill="#fed7c6"/>
<rect x="375" y="641" width="13" height="14" fill="#fca98c"/>
<rect x="388" y="641" width="26" height="14" fill="#fb7050"/>
<rect x="414" y="641" width="12" height="14" fill="#fca98c"/>
<rect x="426" y="641" width="13" height="14" fill="#cb181d"/>
<rect x="439" y="641" width="26" height="14" fill="#fca98c"/>
<rect x="465" y="641" width="12" height="14" fill="#fc9c7d"/>
<rect x="477" y="641" width="13" height="14" fill="#fee0d2"/>
<rect x="490" y="641" width="26" height="14" fill="#fff1eb"/>
<rect x="516" y="641" width="13" height="14" fill="#fee5d9"/>
<rect x="529" y="641" width="12" height="14" fill="#ffede5"/>
<rect x="541" y="641" width="13" height="14" fill="#fff1eb"/>
<rect x="554" y="641" width="26" height="14" fill="#fff5f0"/>
<rect x="593" y="641" width="25" height="14" fill="#fff5f0"/>
<rect x="631" y="641" width="13" height="14" fill="#fff5f0"/>
<rect x="121" y="655" width="13" height="13" fill="#fcb59a"/>
<rect x="134" y="655" width="12" height="13" fill="#fee5d9"/>
<rect x="146" y="655" width="13" height="13" fill="#fee9df"/>
<rect x="159" y="655" width="13" height="13" fill="#fee5d9"/>
<rect x="172" y="655" width="13" height="13" fill="#ffede5"/>
<rect x="185" y="655" width="25" height="13" fill="#fee5d9"/>
<rect x="210" y="655" width="25" height="13" fill="#ffede5"/>
<rect x="235" y="655" width="13" height="13" fill="#fee9df"/>
<rect x="248" y="655" width="13" height="13" fill="#ffede5"/>
<rect x="261" y="655" width="13" height="13" fill="#fee5d9"/>
<rect x="274" y="655" width="12" height="13" fill="#fc8060"/>
<rect x="286" y="655" width="26" height="13" fill="#ffede5"/>
<rect x="312" y="655" width="13" height="13" fill="#fff1eb"/>
<rect x="325" y="655" width="12" height="13" fill="#fdccb8"/>
<rect x="337" y="655" width="26" height="13" fill="#ffede5"/>
<rect x="363" y="655" width="12" height="13" fill="#fee5d9"/>
<rect x="375" y="655" width="13" height="13" fill="#fed7c6"/>
<rect x="388" y="655" width="13" height="13" fill="#fca98c"/>
<rect x="401" y="655" width="13" height="13" fill="#fc9c7d"/>
<rect x="414" y="655" width="12" height="13" fill="#fcb59a"/>
<rect x="426" y="655" width="13" height="13" fill="#f45039"/>
<rect x="439" y="655" width="13" height="13" fill="#fb7050"/>
<rect x="452" y="655" width="13" height="13" fill="#fc9c7d"/>
<rect x="465" y="655" width="12" height="13" fill="#fed7c6"/>
<rect x="477" y="655" width="13" height="13" fill="#fee5d9"/>
<rect x="490" y="655" width="13" height="13" fill="#ffede5"/>
<rect x="503" y="655" width="13" height="13" fill="#fcc1a9"/>
<rect x="516" y="655" width="13" height="13" fill="#fee0d2"/>
<rect x="529" y="655" width="12" height="13" fill="#fee5d9"/>
<rect x="541" y="655" width="13" height="13" fill="#ffede5"/>
<rect x="554" y="655" width="13" height="13" fill="#fff1eb"/>
<rect x="567" y="655" width="26" height="13" fill="#fff5f0"/>
<rect x="606" y="655" width="12" height="13" fill="#fff5f0"/>
<rect x="631" y="655" width="13" height="13" fill="#fff5f0"/>
<rect x="121" y="668" width="13" height="13" fill="#ffede5"/>
<rect x="134" y="668" width="12" height="13" fill="#fff1eb"/>
<rect x="146" y="668" width="13" height="13" fill="#fee0d2"/>
<rect x="159" y="668" width="13" height="13" fill="#fb7050"/>
<rect x="172" y="668" width="25" height="13" fill="#ffede5"/>
<rect x="197" y="668" width="13" height="13" fill="#fee9df"/>
<rect x="210" y="668" width="25" height="13" fill="#ffede5"/>
<rect x="235" y="668" width="13" height="13" fill="#fdccb8"/>
<rect x="248" y="668" width="13" height="13" fill="#fee9df"/>
<rect x="261" y="668" width="13" height="13" fill="#ffede5"/>
<rect x="274" y="668" width="12" height="13" fill="#fcc1a9"/>
<rect x="286" y="668" width="13" height="13" fill="#fee5d9"/>
<rect x="299" y="668" width="13" height="13" fill="#ffede5"/>
<rect x="312" y="668" width="13" height="13" fill="#fee5d9"/>
<rect x="325" y="668" width="12" height="13" fill="#fed7c6"/>
<rect x="337" y="668" width="13" height="13" fill="#fca98c"/>
<rect x="350" y="668" width="13" height="13" fill="#f45039"/>
<rect x="363" y="668" width="12" height="13" fill="#fed7c6"/>
<rect x="375" y="668" width="13" height="13" fill="#fc8f6f"/>
<rect x="388" y="668" width="13" height="13" fill="#f03f2e"/>
<rect x="401" y="668" width="13" height="13" fill="#f96144"/>
<rect x="414" y="668" width="12" height="13" fill="#cb181d"/>
<rect x="426" y="668" width="13" height="13" fill="#67000d"/>
<rect x="439" y="668" width="13" height="13" fill="#fc8f6f"/>
<rect x="452" y="668" width="13" height="13" fill="#fc9c7d"/>
<rect x="465" y="668" width="12" height="13" fill="#67000d"/>
<rect x="477" y="668" width="13" height="13" fill="#fca98c"/>
<rect x="490" y="668" width="13" height="13" fill="#fee5d9"/>
<rect x="503" y="668" width="13" height="13" fill="#ffede5"/>
<rect x="516" y="668" width="25" height="13" fill="#fff1eb"/>
<rect x="541" y="668" width="52" height="13" fill="#fff5f0"/>
<rect x="121" y="681" width="25" height="12" fill="#ffede5"/>
<rect x="146" y="681" width="13" height="12" fill="#fb7050"/>
<rect x="159" y="681" width="26" height="12" fill="#ffede5"/>
<rect x="185" y="681" width="25" height="12" fill="#fee9df"/>
<rect x="210" y="681" width="13" height="12" fill="#fff1eb"/>
<rect x="223" y="681" width="12" height="12" fill="#fee9df"/>
<rect x="235" y="681" width="13" height="12" fill="#fca98c"/>
<rect x="248" y="681" width="13" height="12" fill="#fee9df"/>
<rect x="261" y="681" width="13" height="12" fill="#fdccb8"/>
<rect x="274" y="681" width="12" height="12" fill="#fed7c6"/>
<rect x="286" y="681" width="13" height="12" fill="#fee5d9"/>
<rect x="299" y="681" width="13" height="12" fill="#fee0d2"/>
<rect x="312" y="681" width="13" height="12" fill="#fed7c6"/>
<rect x="325" y="681" width="12" height="12" fill="#fee5d9"/>
<rect x="337" y="681" width="13" height="12" fill="#fee0d2"/>
<rect x="350" y="681" width="13" height="12" fill="#f03f2e"/>
<rect x="363" y="681" width="12" height="12" fill="#fed7c6"/>
<rect x="375" y="681" width="13" height="12" fill="#f45039"/>
<rect x="388" y="681" width="13" height="12" fill="#ad1117"/>
<rect x="401" y="681" width="13" height="12" fill="#fca98c"/>
<rect x="414" y="681" width="25" height="12" fill="#67000d"/>
<rect x="439" y="681" width="13" height="12" fill="#fb7050"/>
<rect x="452" y="681" width="13" height="12" fill="#67000d"/>
<rect x="465" y="681" width="12" height="12" fill="#fcc1a9"/>
<rect x="477" y="681" width="13" height="12" fill="#fca98c"/>
<rect x="490" y="681" width="26" height="12" fill="#fee5d9"/>
<rect x="516" y="681" width="13" height="12" fill="#fff1eb"/>
<rect x="529" y="681" width="12" height="12" fill="#fee0d2"/>
<rect x="541" y="681" width="26" height="12" fill="#fff5f0"/>
<rect x="580" y="681" width="13" height="12" fill="#fff5f0"/>
<rect x="690" y="24" width="33" height="669" fill="url(#g)"/>
<rect x="470" y="24" width="2" height="669" fill="#231f1f"/>
</svg>
<div class="txt0"><div class="title">Polio cases in the United States</div>
<div class="vac">Vaccine introduced</div></div>
<div class="txt"><div class="sl" style="top:21.87px">Alabama</div><div class="sl" style="top:35.00px">Alaska</div><div class="sl" style="top:48.13px">Arizona</div><div class="sl" style="top:61.27px">Arkansas</div><div class="sl" style="top:74.40px">California</div><div class="sl" style="top:87.53px">Colorado</div><div class="sl" style="top:100.66px">Connecticut</div><div class="sl" style="top:113.80px">Delaware</div><div class="sl" style="top:126.93px">District Of Columbia</div><div class="sl" style="top:140.06px">Florida</div><div class="sl" style="top:153.20px">Georgia</div><div class="sl" style="top:166.33px">Hawaii</div><div class="sl" style="top:179.46px">Idaho</div><div class="sl" style="top:192.60px">Illinois</div><div class="sl" style="top:205.73px">Indiana</div><div class="sl" style="top:218.86px">Iowa</div><div class="sl" style="top:231.99px">Kansas</div><div class="sl" style="top:245.13px">Kentucky</div><div class="sl" style="top:258.26px">Louisiana</div><div class="sl" style="top:271.39px">Maine</div><div class="sl" style="top:284.53px">Maryland</div><div class="sl" style="top:297.66px">Massachusetts</div><div class="sl" style="top:310.79px">Michigan</div><div class="sl" style="top:323.93px">Minnesota</div><div class="sl" style="top:337.06px">Mississippi</div><div class="sl" style="top:350.19px">Missouri</div><div class="sl" style="top:363.32px">Montana</div><div class="sl" style="top:376.46px">Nebraska</div><div class="sl" style="top:389.59px">Nevada</div><div class="sl" style="top:402.72px">New Hampshire</div><div class="sl" style="top:415.86px">New Jersey</div><div class="sl" style="top:428.99px">New Mexico</div><div class="sl" style="top:442.12px">New York</div><div class="sl" style="top:455.26px">North Carolina</div><div class="sl" style="top:468.39px">North Dakota</div><div class="sl" style="top:481.52px">Ohio</div><div class="sl" style="top:494.65px">Oklahoma</div><div class="sl" style="top:507.79px">Oregon</div><div class="sl" style="top:520.92px">Pennsylvania</div><div class="sl" style="top:534.05px">Rhode Island</div><div class="sl" style="top:547.19px">South Carolina</div><div class="sl" style="top:560.32px">South Dakota</div><div class="sl" style="top:573.45px">Tennessee</div><div class="sl" style="top:586.59px">Texas</div><div class="sl" style="top:599.72px">Utah</div><div class="sl" style="top:612.85px">Vermont</div><div class="sl" style="top:625.98px">Virginia</div><div class="sl" style="top:639.12px">Washington</div><div class="sl" style="top:652.25px">West Virginia</div><div class="sl" style="top:665.38px">Wisconsin</div><div class="sl" style="top:678.52px">Wyoming</div><div class="xt" style="left:133.10px">1930</div><div class="xt" style="left:196.80px">1935</div><div class="xt" style="left:260.50px">1940</div><div class="xt" style="left:324.20px">1945</div><div class="xt" style="left:387.90px">1950</div><div class="xt" style="left:451.60px">1955</div><div class="xt" style="left:515.30px">1960</div><div class="xt" style="left:579.00px">1965</div><div class="xt" style="left:629.96px">1969</div><div class="cbt" style="top:61.00px">50+</div><div class="cbt" style="top:186.00px">40</div><div class="cbt" style="top:311.00px">30</div><div class="cbt" style="top:436.00px">20</div><div class="cbt" style="top:561.00px">10</div>
<div class="foot">Data source: Project TYCHO (tycho.pitt.edu) | Author: Randy Olson (randalolson.com / @randal_olson)</div></div>
</body></html>
